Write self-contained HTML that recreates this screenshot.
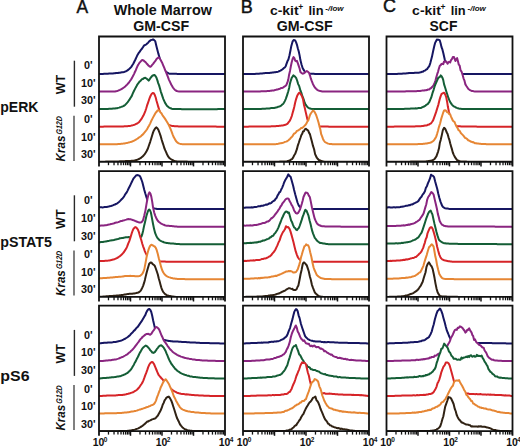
<!DOCTYPE html>
<html><head><meta charset="utf-8"><style>
html,body{margin:0;padding:0;background:#fff;}
svg{display:block;}
text{font-family:"Liberation Sans",sans-serif;fill:#111;}
.h{font-weight:bold;font-size:14.2px;}
.hk{font-weight:bold;font-size:13.4px;}
.hl{font-size:18px;stroke:#111;stroke-width:0.45px;}
.rl{font-weight:bold;font-size:14px;}
.t{font-weight:bold;font-size:10.8px;}
.wt{font-weight:bold;font-size:12.5px;}
.ax{font-weight:bold;font-size:10.4px;}
</style></head><body>
<svg width="520" height="447" viewBox="0 0 520 447">
<clipPath id="p00"><rect x="99.0" y="36.5" width="126.0" height="125.3"/></clipPath><g clip-path="url(#p00)">
<path d="M89.0,74.1 99.0,74.1 100.0,74.0 101.0,74.0 102.0,73.9 103.0,73.9 104.0,73.8 105.0,73.8 106.0,73.7 107.0,73.7 108.0,73.7 109.0,73.6 110.0,73.6 111.0,73.5 112.0,73.4 113.0,73.4 114.0,73.3 115.0,73.3 116.0,73.1 117.0,73.1 118.0,73.0 118.9,72.8 119.9,72.7 120.9,72.5 121.9,72.3 122.9,72.2 124.0,72.0 125.0,71.6 126.1,71.2 127.1,70.7 128.1,69.9 129.2,69.0 130.2,68.1 131.3,66.9 132.3,65.3 133.3,63.8 134.4,61.5 135.4,59.5 136.5,57.1 137.5,54.9 138.4,53.4 139.2,52.4 140.1,51.1 141.0,49.8 142.1,48.5 143.3,46.7 144.4,45.2 145.3,45.0 146.2,44.5 147.0,43.6 147.9,43.0 148.8,41.8 149.6,41.1 150.5,40.4 151.4,39.9 152.2,39.7 153.1,39.4 154.2,40.1 155.2,41.1 156.5,46.4 157.4,49.9 158.3,53.4 159.2,56.5 160.0,59.2 160.9,62.0 162.0,64.9 163.2,67.6 164.3,69.6 165.2,70.9 166.1,71.8 166.9,72.4 167.8,72.9 168.7,73.4 169.5,73.7 170.4,73.8 171.4,73.8 172.4,73.8 173.4,73.8 174.4,73.8 175.4,73.8 176.4,73.8 177.3,73.9 178.3,73.9 179.3,73.9 180.3,73.9 181.3,73.9 182.3,73.9 183.3,73.9 184.3,73.9 185.3,73.9 186.3,73.9 187.3,74.0 188.3,74.0 189.3,74.0 190.3,74.0 191.2,74.0 192.2,74.0 193.2,74.0 194.2,74.0 195.2,74.0 196.2,74.0 197.2,74.0 198.2,74.0 199.2,74.0 200.2,74.0 201.2,74.0 202.2,74.0 203.2,74.0 204.2,74.0 205.1,74.0 206.1,74.0 207.1,74.0 208.1,74.0 209.1,74.0 210.1,74.0 211.1,74.0 212.1,74.0 213.1,74.0 214.1,74.0 215.1,74.0 216.1,74.0 217.1,74.0 218.1,74.0 219.0,74.0 220.0,74.0 221.0,74.0 222.0,74.0 223.0,74.0 224.0,74.0 225.0,74.1 235.0,74.1 235.0,171.8 89.0,171.8Z" fill="#fff" stroke="#161662" stroke-width="2.00" stroke-linejoin="round"/>
<path d="M89.0,91.6 99.0,91.6 100.0,91.6 101.0,91.6 102.0,91.6 103.0,91.6 104.0,91.6 105.0,91.6 106.0,91.6 107.0,91.6 108.0,91.6 109.0,91.6 110.0,91.6 111.0,91.6 112.0,91.6 113.0,91.6 114.0,91.5 115.0,91.4 116.0,91.2 117.0,91.0 118.0,90.7 118.9,90.3 119.9,89.9 120.9,89.4 121.9,88.8 122.9,88.2 123.9,87.5 124.9,86.8 125.8,85.8 126.8,84.9 127.8,83.8 128.8,82.8 129.8,81.3 130.9,79.7 131.9,78.1 133.0,76.0 134.0,74.1 134.9,72.0 135.8,70.2 136.6,68.2 137.5,66.1 138.4,64.6 139.2,63.1 140.1,62.1 141.0,61.1 141.8,60.3 142.7,60.1 143.6,60.5 144.4,61.3 145.3,61.9 146.4,63.2 147.6,64.5 148.7,65.8 149.6,66.5 150.5,66.8 151.4,66.0 152.2,64.8 153.1,63.8 154.2,62.3 155.4,60.9 156.5,59.1 157.4,58.2 158.3,57.5 159.2,57.9 160.0,58.9 160.9,60.4 162.0,62.4 163.2,65.3 164.3,67.9 165.2,70.3 166.1,72.4 166.9,74.4 167.8,76.6 168.9,79.6 170.1,82.2 171.2,84.5 172.1,86.1 172.9,87.5 173.8,88.7 174.7,89.7 175.8,90.5 176.8,91.0 177.9,91.3 179.0,91.4 180.0,91.4 181.0,91.5 182.0,91.5 183.0,91.5 184.0,91.6 185.0,91.6 186.0,91.6 187.0,91.6 188.0,91.6 189.0,91.6 190.0,91.6 191.0,91.6 192.0,91.6 193.0,91.6 194.0,91.6 195.0,91.6 196.0,91.6 197.0,91.6 198.0,91.6 199.0,91.6 200.0,91.6 201.0,91.6 202.0,91.6 203.0,91.6 204.0,91.6 205.0,91.6 206.0,91.6 207.0,91.6 208.0,91.6 209.0,91.6 210.0,91.6 211.0,91.6 212.0,91.6 213.0,91.6 214.0,91.6 215.0,91.6 216.0,91.6 217.0,91.6 218.0,91.6 219.0,91.6 220.0,91.6 221.0,91.6 222.0,91.6 223.0,91.6 224.0,91.6 225.0,91.6 235.0,91.6 235.0,171.8 89.0,171.8Z" fill="#fff" stroke="#8a2580" stroke-width="2.00" stroke-linejoin="round"/>
<path d="M89.0,109.2 99.0,109.2 100.0,109.1 101.0,109.1 102.0,109.0 103.0,109.0 104.0,109.0 105.0,109.0 106.0,108.9 107.0,108.9 108.0,108.9 109.0,108.8 110.0,108.8 111.0,108.7 112.0,108.7 113.0,108.6 114.0,108.5 115.0,108.5 116.0,108.3 117.1,108.2 118.1,107.9 119.2,107.6 120.2,107.2 121.2,106.9 122.3,106.5 123.3,106.1 124.4,105.5 125.4,104.7 126.4,103.6 127.5,102.4 128.5,101.0 129.6,99.4 130.6,97.8 131.7,96.1 132.8,93.4 133.8,91.3 134.9,89.1 135.8,87.4 136.7,85.8 137.5,84.3 138.4,83.2 139.5,81.6 140.7,80.7 141.8,79.3 142.7,79.1 143.6,78.4 144.4,78.0 145.3,77.8 146.4,78.5 147.6,79.5 148.7,80.6 149.6,79.4 150.4,78.1 151.3,77.0 152.4,75.7 153.4,75.3 154.5,74.9 155.5,76.1 156.5,77.8 157.4,80.4 158.2,83.1 159.1,85.4 160.0,88.5 160.8,91.6 161.7,94.2 162.6,96.8 163.4,99.1 164.3,101.1 165.2,103.1 166.1,104.4 166.9,105.7 167.8,106.5 168.7,107.3 169.7,107.8 170.7,108.3 171.8,108.7 172.8,108.9 173.8,109.0 174.8,109.0 175.8,109.0 176.8,109.0 177.8,109.1 178.8,109.1 179.8,109.1 180.8,109.1 181.8,109.2 182.8,109.2 183.8,109.2 184.8,109.2 185.8,109.2 186.9,109.2 187.9,109.2 188.9,109.2 189.9,109.2 190.9,109.2 191.9,109.2 192.9,109.2 193.9,109.2 194.9,109.2 195.9,109.2 196.9,109.2 197.9,109.2 198.9,109.2 199.9,109.2 200.9,109.2 201.9,109.2 202.9,109.2 203.9,109.2 204.9,109.2 205.9,109.2 206.9,109.2 207.9,109.2 208.9,109.2 209.9,109.2 210.9,109.2 211.9,109.2 213.0,109.2 214.0,109.2 215.0,109.2 216.0,109.2 217.0,109.2 218.0,109.1 219.0,109.1 220.0,109.1 221.0,109.1 222.0,109.1 223.0,109.1 224.0,109.1 225.0,109.2 235.0,109.2 235.0,171.8 89.0,171.8Z" fill="#fff" stroke="#145e36" stroke-width="2.00" stroke-linejoin="round"/>
<path d="M89.0,126.7 99.0,126.7 100.0,126.7 101.0,126.7 102.0,126.7 103.1,126.7 104.1,126.6 105.1,126.6 106.1,126.6 107.1,126.6 108.1,126.6 109.2,126.6 110.2,126.6 111.2,126.6 112.2,126.6 113.2,126.6 114.2,126.6 115.2,126.5 116.3,126.5 117.3,126.5 118.3,126.5 119.3,126.5 120.3,126.5 121.3,126.4 122.4,126.4 123.4,126.4 124.4,126.3 125.4,126.3 126.4,126.3 127.4,126.2 128.4,126.1 129.3,126.0 130.3,125.9 131.3,125.6 132.3,125.4 133.3,125.1 134.3,124.8 135.3,124.4 136.2,123.9 137.2,123.5 138.2,122.8 139.2,121.9 140.2,120.6 141.3,119.2 142.3,117.4 143.4,115.6 144.4,113.3 145.3,111.1 146.2,108.5 147.0,105.7 147.9,103.1 148.8,100.5 149.6,98.1 150.5,96.0 151.6,93.9 152.7,93.0 153.8,93.3 154.8,95.1 155.7,97.5 156.5,100.8 157.4,103.7 158.3,106.9 159.2,109.8 160.0,112.8 160.9,115.1 162.0,117.4 163.1,119.8 164.1,121.4 165.2,122.8 166.2,123.8 167.3,124.3 168.3,124.8 169.4,125.1 170.4,125.4 171.4,125.7 172.5,126.0 173.5,126.1 174.6,126.2 175.6,126.3 176.6,126.3 177.6,126.3 178.6,126.4 179.6,126.4 180.6,126.4 181.6,126.4 182.7,126.4 183.7,126.5 184.7,126.5 185.7,126.5 186.7,126.5 187.7,126.5 188.7,126.5 189.7,126.5 190.7,126.5 191.7,126.5 192.7,126.6 193.7,126.6 194.8,126.6 195.8,126.6 196.8,126.6 197.8,126.6 198.8,126.6 199.8,126.6 200.8,126.6 201.8,126.6 202.8,126.6 203.8,126.6 204.8,126.6 205.8,126.6 206.9,126.6 207.9,126.6 208.9,126.6 209.9,126.6 210.9,126.6 211.9,126.6 212.9,126.6 213.9,126.6 214.9,126.6 215.9,126.6 216.9,126.7 217.9,126.7 219.0,126.7 220.0,126.7 221.0,126.7 222.0,126.7 223.0,126.7 224.0,126.7 225.0,126.7 235.0,126.7 235.0,171.8 89.0,171.8Z" fill="#fff" stroke="#d62428" stroke-width="2.00" stroke-linejoin="round"/>
<path d="M89.0,144.2 99.0,144.2 100.0,144.2 101.0,144.2 102.0,144.2 103.0,144.2 104.0,144.2 105.0,144.2 106.0,144.2 107.0,144.2 108.0,144.2 109.0,144.2 110.0,144.2 111.0,144.2 112.0,144.2 113.0,144.2 114.0,144.2 115.0,144.2 116.0,144.2 117.1,144.2 118.1,144.1 119.2,144.0 120.2,143.9 121.2,143.8 122.3,143.7 123.3,143.6 124.4,143.4 125.4,143.2 126.4,143.1 127.3,142.9 128.3,142.6 129.2,142.4 130.2,142.1 131.1,141.9 132.1,141.5 133.0,141.1 134.0,140.7 135.0,140.2 135.9,139.6 136.9,139.0 137.9,138.4 138.8,137.6 139.8,137.0 140.8,136.4 141.7,135.4 142.7,134.6 143.7,133.5 144.8,132.1 145.8,130.9 146.9,129.5 147.9,127.6 149.0,125.7 150.1,123.6 151.1,121.3 152.2,119.1 153.1,117.4 153.9,115.9 154.8,114.3 155.7,112.7 156.6,111.8 157.4,110.7 158.3,110.1 159.3,110.6 160.3,112.3 161.4,113.3 162.4,115.1 163.5,116.6 164.6,118.1 165.8,119.9 166.9,121.7 167.8,123.2 168.7,124.9 169.5,126.7 170.4,128.7 171.5,131.4 172.7,134.6 173.8,137.3 174.7,138.8 175.6,140.4 176.4,141.6 177.3,142.4 178.3,143.1 179.4,143.6 180.4,143.9 181.5,144.1 182.5,144.2 183.5,144.2 184.5,144.2 185.5,144.2 186.5,144.2 187.6,144.2 188.6,144.2 189.6,144.2 190.6,144.2 191.6,144.2 192.6,144.2 193.6,144.2 194.6,144.2 195.7,144.2 196.7,144.2 197.7,144.2 198.7,144.2 199.7,144.2 200.7,144.2 201.7,144.2 202.7,144.2 203.8,144.2 204.8,144.2 205.8,144.2 206.8,144.2 207.8,144.2 208.8,144.2 209.8,144.2 210.8,144.2 211.8,144.2 212.9,144.2 213.9,144.2 214.9,144.2 215.9,144.2 216.9,144.2 217.9,144.2 218.9,144.2 219.9,144.2 221.0,144.2 222.0,144.2 223.0,144.2 224.0,144.2 225.0,144.2 235.0,144.2 235.0,171.8 89.0,171.8Z" fill="#fff" stroke="#e68634" stroke-width="2.00" stroke-linejoin="round"/>
<path d="M89.0,161.8 99.0,161.8 100.0,161.8 101.0,161.7 102.0,161.7 103.0,161.7 103.9,161.7 104.9,161.7 105.9,161.6 106.9,161.6 107.9,161.6 108.9,161.6 109.9,161.6 110.8,161.5 111.8,161.5 112.8,161.5 113.8,161.5 114.8,161.5 115.8,161.4 116.8,161.4 117.8,161.4 118.8,161.4 119.7,161.3 120.7,161.3 121.7,161.3 122.7,161.2 123.7,161.2 124.7,161.2 125.7,161.1 126.7,161.1 127.6,161.0 128.6,161.0 129.6,161.0 130.6,160.9 131.6,160.8 132.6,160.8 133.6,160.7 134.5,160.6 135.5,160.3 136.5,160.1 137.5,159.6 138.5,159.3 139.5,158.7 140.6,158.1 141.6,157.3 142.6,156.4 143.6,155.5 144.7,154.1 145.8,152.5 146.8,150.7 147.9,148.5 149.0,145.2 150.2,141.8 151.3,138.2 152.2,135.3 153.0,132.6 153.9,130.4 155.1,128.4 156.2,127.4 157.4,128.3 158.6,130.3 159.6,133.0 160.7,136.2 161.7,139.8 162.6,142.6 163.4,145.0 164.3,148.0 165.2,150.2 166.1,152.2 166.9,154.0 167.8,155.9 168.7,157.2 169.7,158.2 170.7,159.0 171.8,159.7 172.8,160.1 173.8,160.6 174.8,161.0 175.9,161.2 176.9,161.4 178.0,161.5 179.0,161.5 180.0,161.5 181.0,161.5 182.0,161.6 183.0,161.6 184.0,161.6 185.0,161.6 186.0,161.6 187.0,161.6 188.0,161.7 189.0,161.7 190.0,161.7 191.0,161.7 192.0,161.7 193.0,161.7 194.0,161.7 195.0,161.7 196.0,161.7 197.0,161.7 198.0,161.7 199.0,161.7 200.0,161.7 201.0,161.7 202.0,161.7 203.0,161.7 204.0,161.8 205.0,161.8 206.0,161.8 207.0,161.8 208.0,161.8 209.0,161.8 210.0,161.8 211.0,161.8 212.0,161.8 213.0,161.8 214.0,161.8 215.0,161.8 216.0,161.8 217.0,161.8 218.0,161.8 219.0,161.8 220.0,161.8 221.0,161.8 222.0,161.8 223.0,161.8 224.0,161.8 225.0,161.8 235.0,161.8 235.0,171.8 89.0,171.8Z" fill="#fff" stroke="#302214" stroke-width="2.00" stroke-linejoin="round"/>
</g>
<path d="M99.0,166.4 V36.5 H225.0 V166.4" fill="none" stroke="#111" stroke-width="1.8" stroke-linecap="butt" stroke-linejoin="miter"/>
<line x1="99.0" y1="161.8" x2="225.0" y2="161.8" stroke="#111" stroke-width="1.8"/>
<line x1="108.48" y1="161.8" x2="108.48" y2="165.2" stroke="#111" stroke-width="1.3"/>
<line x1="114.03" y1="161.8" x2="114.03" y2="165.2" stroke="#111" stroke-width="1.3"/>
<line x1="117.96" y1="161.8" x2="117.96" y2="165.2" stroke="#111" stroke-width="1.3"/>
<line x1="121.02" y1="161.8" x2="121.02" y2="165.2" stroke="#111" stroke-width="1.3"/>
<line x1="123.51" y1="161.8" x2="123.51" y2="165.2" stroke="#111" stroke-width="1.3"/>
<line x1="125.62" y1="161.8" x2="125.62" y2="165.2" stroke="#111" stroke-width="1.3"/>
<line x1="127.45" y1="161.8" x2="127.45" y2="165.2" stroke="#111" stroke-width="1.3"/>
<line x1="129.06" y1="161.8" x2="129.06" y2="165.2" stroke="#111" stroke-width="1.3"/>
<line x1="139.98" y1="161.8" x2="139.98" y2="165.2" stroke="#111" stroke-width="1.3"/>
<line x1="145.53" y1="161.8" x2="145.53" y2="165.2" stroke="#111" stroke-width="1.3"/>
<line x1="149.46" y1="161.8" x2="149.46" y2="165.2" stroke="#111" stroke-width="1.3"/>
<line x1="152.52" y1="161.8" x2="152.52" y2="165.2" stroke="#111" stroke-width="1.3"/>
<line x1="155.01" y1="161.8" x2="155.01" y2="165.2" stroke="#111" stroke-width="1.3"/>
<line x1="157.12" y1="161.8" x2="157.12" y2="165.2" stroke="#111" stroke-width="1.3"/>
<line x1="158.95" y1="161.8" x2="158.95" y2="165.2" stroke="#111" stroke-width="1.3"/>
<line x1="160.56" y1="161.8" x2="160.56" y2="165.2" stroke="#111" stroke-width="1.3"/>
<line x1="171.48" y1="161.8" x2="171.48" y2="165.2" stroke="#111" stroke-width="1.3"/>
<line x1="177.03" y1="161.8" x2="177.03" y2="165.2" stroke="#111" stroke-width="1.3"/>
<line x1="180.96" y1="161.8" x2="180.96" y2="165.2" stroke="#111" stroke-width="1.3"/>
<line x1="184.02" y1="161.8" x2="184.02" y2="165.2" stroke="#111" stroke-width="1.3"/>
<line x1="186.51" y1="161.8" x2="186.51" y2="165.2" stroke="#111" stroke-width="1.3"/>
<line x1="188.62" y1="161.8" x2="188.62" y2="165.2" stroke="#111" stroke-width="1.3"/>
<line x1="190.45" y1="161.8" x2="190.45" y2="165.2" stroke="#111" stroke-width="1.3"/>
<line x1="192.06" y1="161.8" x2="192.06" y2="165.2" stroke="#111" stroke-width="1.3"/>
<line x1="202.98" y1="161.8" x2="202.98" y2="165.2" stroke="#111" stroke-width="1.3"/>
<line x1="208.53" y1="161.8" x2="208.53" y2="165.2" stroke="#111" stroke-width="1.3"/>
<line x1="212.46" y1="161.8" x2="212.46" y2="165.2" stroke="#111" stroke-width="1.3"/>
<line x1="215.52" y1="161.8" x2="215.52" y2="165.2" stroke="#111" stroke-width="1.3"/>
<line x1="218.01" y1="161.8" x2="218.01" y2="165.2" stroke="#111" stroke-width="1.3"/>
<line x1="220.12" y1="161.8" x2="220.12" y2="165.2" stroke="#111" stroke-width="1.3"/>
<line x1="221.95" y1="161.8" x2="221.95" y2="165.2" stroke="#111" stroke-width="1.3"/>
<line x1="223.56" y1="161.8" x2="223.56" y2="165.2" stroke="#111" stroke-width="1.3"/>
<line x1="130.50" y1="161.8" x2="130.50" y2="166.4" stroke="#111" stroke-width="1.5"/>
<line x1="162.00" y1="161.8" x2="162.00" y2="166.4" stroke="#111" stroke-width="1.5"/>
<line x1="193.50" y1="161.8" x2="193.50" y2="166.4" stroke="#111" stroke-width="1.5"/>
<clipPath id="p01"><rect x="243.0" y="36.5" width="126.0" height="125.3"/></clipPath><g clip-path="url(#p01)">
<path d="M233.0,74.1 243.0,74.1 244.0,74.0 245.0,74.0 246.0,74.0 247.0,74.0 248.0,74.0 249.0,74.0 250.0,74.0 251.0,73.9 252.0,73.9 253.0,73.9 254.0,73.9 255.0,73.9 256.0,73.8 257.0,73.8 258.0,73.8 259.0,73.7 260.1,73.6 261.1,73.5 262.2,73.4 263.2,73.3 264.2,73.2 265.3,73.1 266.3,73.0 267.4,73.1 268.4,72.9 269.4,72.9 270.4,72.7 271.4,72.8 272.3,72.6 273.3,72.5 274.3,72.3 275.3,72.3 276.3,72.1 277.4,71.9 278.4,71.6 279.5,71.0 280.5,70.6 281.6,69.9 282.6,69.2 283.7,68.2 284.8,67.5 285.7,66.2 286.5,63.9 287.4,61.3 288.4,59.5 289.5,55.3 290.4,50.7 291.2,46.6 292.6,41.4 293.8,40.0 295.2,40.4 296.1,42.4 296.9,44.6 297.8,48.3 298.7,51.3 299.6,55.4 300.4,60.1 301.6,64.8 302.7,68.3 303.7,69.9 304.6,71.3 305.6,72.4 306.7,73.2 307.8,73.5 308.8,73.7 309.9,73.8 310.9,73.8 311.9,73.8 312.9,73.8 313.9,73.8 314.9,73.9 315.9,73.9 316.9,73.9 317.9,73.9 318.9,73.9 319.9,74.0 320.9,74.0 321.9,74.0 322.9,74.0 323.9,74.0 324.9,74.0 325.9,74.0 326.9,74.0 327.9,74.0 328.9,74.0 329.9,74.0 330.9,74.0 331.9,74.1 332.9,74.1 333.9,74.1 334.9,74.1 335.9,74.1 336.9,74.1 337.9,74.1 338.9,74.1 340.0,74.1 341.0,74.1 342.0,74.1 343.0,74.1 344.0,74.1 345.0,74.1 346.0,74.1 347.0,74.1 348.0,74.0 349.0,74.0 350.0,74.0 351.0,74.0 352.0,74.0 353.0,74.0 354.0,74.0 355.0,74.0 356.0,74.0 357.0,74.0 358.0,74.0 359.0,74.0 360.0,74.0 361.0,74.0 362.0,74.0 363.0,74.0 364.0,74.0 365.0,74.0 366.0,74.0 367.0,74.0 368.0,74.0 369.0,74.1 379.0,74.1 379.0,171.8 233.0,171.8Z" fill="#fff" stroke="#161662" stroke-width="2.00" stroke-linejoin="round"/>
<path d="M233.0,91.6 243.0,91.6 244.0,91.6 245.0,91.6 246.0,91.6 247.0,91.6 248.0,91.5 249.0,91.5 250.0,91.5 251.0,91.5 252.0,91.5 253.0,91.5 254.0,91.5 255.0,91.5 256.0,91.4 257.0,91.4 258.0,91.4 259.0,91.4 260.1,91.4 261.1,91.3 262.2,91.3 263.2,91.3 264.2,91.3 265.3,91.2 266.3,91.2 267.4,91.1 268.4,91.0 269.4,90.9 270.3,90.8 271.3,90.7 272.2,90.4 273.2,90.4 274.1,90.4 275.1,90.0 276.0,89.8 277.0,89.5 278.0,89.4 279.0,88.9 280.0,88.7 281.0,88.1 282.0,88.0 283.0,87.6 284.0,86.8 285.1,86.1 286.3,85.2 287.4,82.5 288.3,79.6 289.1,74.7 290.0,70.9 290.9,66.0 291.7,62.3 292.6,59.0 293.5,57.1 294.4,58.2 295.2,60.6 296.1,61.2 296.9,60.8 297.8,63.2 298.7,65.8 299.6,68.5 300.4,72.0 301.6,73.1 302.7,73.7 303.7,73.4 304.7,72.6 305.8,71.7 306.8,71.0 307.9,71.8 309.1,72.9 310.0,75.6 310.8,78.4 311.7,80.9 312.8,83.7 314.0,86.1 315.1,87.8 316.1,88.8 317.2,89.8 318.2,90.4 319.3,90.8 320.3,91.1 321.3,91.3 322.3,91.5 323.3,91.6 324.2,91.6 325.2,91.6 326.2,91.6 327.2,91.6 328.2,91.6 329.2,91.6 330.2,91.6 331.2,91.6 332.2,91.6 333.2,91.6 334.2,91.6 335.2,91.6 336.2,91.6 337.2,91.6 338.1,91.6 339.1,91.6 340.1,91.6 341.1,91.6 342.1,91.6 343.1,91.6 344.1,91.6 345.1,91.6 346.1,91.6 347.1,91.6 348.1,91.6 349.1,91.6 350.1,91.6 351.1,91.6 352.1,91.6 353.1,91.6 354.1,91.6 355.1,91.6 356.1,91.6 357.1,91.6 358.1,91.6 359.0,91.6 360.0,91.6 361.0,91.6 362.0,91.6 363.0,91.6 364.0,91.6 365.0,91.6 366.0,91.6 367.0,91.6 368.0,91.6 369.0,91.6 379.0,91.6 379.0,171.8 233.0,171.8Z" fill="#fff" stroke="#8a2580" stroke-width="2.00" stroke-linejoin="round"/>
<path d="M233.0,109.2 243.0,109.2 244.0,109.1 245.0,109.1 246.0,109.1 247.0,109.1 248.0,109.1 249.0,109.1 250.0,109.1 251.0,109.1 252.0,109.1 253.0,109.0 254.0,109.0 255.0,109.0 256.0,109.0 257.0,109.0 258.0,109.0 259.0,108.9 260.1,108.9 261.1,108.9 262.2,108.8 263.2,108.8 264.2,108.7 265.3,108.7 266.3,108.6 267.4,108.5 268.4,108.5 269.4,108.4 270.3,108.2 271.3,108.1 272.2,108.0 273.2,107.9 274.1,107.9 275.1,107.7 276.0,107.6 277.0,107.3 278.0,106.8 279.1,106.5 280.1,106.2 281.2,105.6 282.2,104.5 283.1,104.0 283.9,102.8 284.8,101.1 285.7,99.1 286.6,96.7 287.4,94.1 288.3,91.2 289.2,87.7 290.0,83.4 290.9,80.3 291.8,77.7 292.6,76.6 293.4,75.4 294.3,76.0 295.2,76.8 296.1,77.8 297.1,80.5 298.2,84.1 299.3,86.4 300.4,90.5 301.3,92.6 302.1,95.5 303.0,97.6 303.9,100.2 304.7,102.8 305.6,104.6 306.8,106.2 307.9,107.5 309.1,108.2 310.1,108.5 311.1,108.8 312.1,108.9 313.1,108.9 314.1,108.9 315.1,109.0 316.1,109.0 317.1,109.0 318.1,109.0 319.1,109.0 320.1,109.0 321.1,109.0 322.1,109.0 323.1,109.1 324.1,109.1 325.1,109.1 326.1,109.1 327.1,109.1 328.1,109.1 329.1,109.1 330.1,109.1 331.1,109.1 332.1,109.1 333.1,109.1 334.1,109.1 335.1,109.1 336.1,109.1 337.1,109.1 338.1,109.1 339.1,109.1 340.1,109.1 341.1,109.1 342.1,109.1 343.0,109.1 344.0,109.1 345.0,109.1 346.0,109.1 347.0,109.1 348.0,109.1 349.0,109.1 350.0,109.1 351.0,109.1 352.0,109.1 353.0,109.1 354.0,109.1 355.0,109.1 356.0,109.1 357.0,109.1 358.0,109.1 359.0,109.1 360.0,109.1 361.0,109.1 362.0,109.1 363.0,109.1 364.0,109.1 365.0,109.1 366.0,109.1 367.0,109.1 368.0,109.1 369.0,109.2 379.0,109.2 379.0,171.8 233.0,171.8Z" fill="#fff" stroke="#145e36" stroke-width="2.00" stroke-linejoin="round"/>
<path d="M233.0,126.7 243.0,126.7 244.0,126.7 245.0,126.7 246.0,126.7 247.1,126.7 248.1,126.7 249.1,126.6 250.1,126.6 251.1,126.6 252.1,126.6 253.2,126.6 254.2,126.6 255.2,126.6 256.2,126.6 257.2,126.6 258.2,126.6 259.3,126.6 260.3,126.6 261.3,126.5 262.3,126.5 263.3,126.5 264.3,126.5 265.4,126.5 266.4,126.4 267.4,126.4 268.4,126.4 269.4,126.4 270.4,126.4 271.4,126.3 272.4,126.3 273.4,126.3 274.4,126.2 275.5,126.2 276.5,126.1 277.5,126.0 278.5,125.9 279.5,125.8 280.5,125.7 281.5,125.6 282.5,125.6 283.5,125.3 284.4,125.0 285.4,124.8 286.4,124.3 287.4,123.9 288.3,122.7 289.1,121.7 290.0,120.4 290.9,118.4 291.8,116.0 292.6,113.0 293.5,109.9 294.4,106.3 295.2,102.5 296.1,99.1 297.1,96.1 298.2,94.1 299.1,92.7 299.9,93.0 301.0,94.5 302.1,96.6 303.0,99.2 303.9,104.4 304.8,108.0 305.6,111.6 306.4,115.0 307.3,119.0 308.2,121.6 309.1,123.8 310.1,125.1 311.0,125.7 312.0,126.1 313.0,126.3 314.0,126.5 315.0,126.5 316.0,126.5 317.0,126.5 318.0,126.5 319.0,126.6 320.0,126.6 321.0,126.6 322.0,126.6 323.0,126.6 324.0,126.6 325.0,126.6 326.0,126.6 327.0,126.6 328.0,126.6 329.0,126.7 330.0,126.7 331.0,126.7 332.0,126.7 333.0,126.7 334.0,126.7 335.0,126.7 336.0,126.7 337.0,126.7 338.0,126.7 339.0,126.7 340.0,126.7 341.0,126.7 342.0,126.7 343.0,126.7 344.0,126.7 345.0,126.7 346.0,126.7 347.0,126.7 348.0,126.7 349.0,126.7 350.0,126.7 351.0,126.7 352.0,126.7 353.0,126.7 354.0,126.7 355.0,126.7 356.0,126.7 357.0,126.7 358.0,126.7 359.0,126.7 360.0,126.7 361.0,126.7 362.0,126.7 363.0,126.7 364.0,126.7 365.0,126.7 366.0,126.7 367.0,126.7 368.0,126.7 369.0,126.7 379.0,126.7 379.0,171.8 233.0,171.8Z" fill="#fff" stroke="#d62428" stroke-width="2.00" stroke-linejoin="round"/>
<path d="M233.0,144.2 243.0,144.2 244.0,144.2 245.0,144.2 246.0,144.2 247.0,144.2 248.0,144.2 249.0,144.2 250.0,144.2 251.0,144.2 252.0,144.2 253.0,144.2 254.0,144.2 255.0,144.2 256.0,144.2 257.0,144.2 258.0,144.2 259.0,144.2 260.0,144.2 261.1,144.2 262.1,144.2 263.1,144.2 264.1,144.2 265.1,144.2 266.1,144.2 267.2,144.2 268.2,144.2 269.2,144.2 270.2,144.2 271.2,144.2 272.2,144.2 273.3,144.2 274.3,144.2 275.3,144.2 276.3,144.1 277.2,143.9 278.2,143.8 279.2,143.6 280.1,143.3 281.1,143.2 282.1,142.9 283.0,142.7 284.0,142.4 285.0,141.9 286.1,141.6 287.1,141.2 288.2,140.5 289.2,139.6 290.2,138.7 291.2,137.4 292.3,136.5 293.3,134.7 294.3,133.5 295.2,133.1 296.1,132.1 296.9,130.9 297.8,130.6 298.9,129.9 299.9,129.2 301.0,128.1 302.1,127.9 303.0,127.2 303.9,126.4 304.7,125.6 305.6,124.7 306.5,123.4 307.3,121.6 308.2,120.6 309.1,117.9 309.9,115.3 310.8,113.5 311.9,112.0 313.0,110.5 314.1,111.3 315.1,112.9 316.0,114.7 316.8,117.0 317.7,119.7 318.6,122.7 319.4,126.1 320.3,129.2 321.2,134.2 322.1,136.4 322.9,138.7 323.8,140.5 324.9,142.0 326.1,142.7 327.2,143.2 328.2,143.6 329.3,143.9 330.3,144.0 331.4,144.1 332.4,144.2 333.4,144.2 334.4,144.2 335.4,144.2 336.4,144.2 337.3,144.2 338.3,144.2 339.3,144.2 340.3,144.2 341.3,144.2 342.3,144.2 343.3,144.2 344.3,144.2 345.3,144.2 346.2,144.2 347.2,144.2 348.2,144.2 349.2,144.2 350.2,144.2 351.2,144.2 352.2,144.2 353.2,144.2 354.2,144.2 355.2,144.2 356.1,144.2 357.1,144.2 358.1,144.2 359.1,144.2 360.1,144.2 361.1,144.2 362.1,144.2 363.1,144.2 364.1,144.2 365.0,144.2 366.0,144.2 367.0,144.2 368.0,144.2 369.0,144.2 379.0,144.2 379.0,171.8 233.0,171.8Z" fill="#fff" stroke="#e68634" stroke-width="2.00" stroke-linejoin="round"/>
<path d="M233.0,161.8 243.0,161.8 244.0,161.8 245.0,161.8 246.0,161.8 247.0,161.8 248.0,161.8 249.0,161.8 250.0,161.8 251.0,161.8 252.0,161.8 253.0,161.8 254.0,161.8 255.0,161.8 256.0,161.8 257.0,161.8 258.0,161.8 259.0,161.8 260.0,161.8 261.0,161.8 262.0,161.8 263.0,161.8 264.0,161.8 265.0,161.8 266.0,161.8 267.0,161.8 268.0,161.8 269.0,161.8 270.0,161.8 271.0,161.8 272.0,161.8 273.0,161.8 274.0,161.8 275.0,161.8 276.0,161.7 277.0,161.7 278.0,161.7 279.0,161.7 280.0,161.6 281.0,161.6 282.0,161.6 283.0,161.5 284.0,161.5 285.0,161.5 286.0,161.4 287.0,161.3 287.9,161.0 288.9,160.7 289.9,160.4 290.9,159.6 292.0,159.1 293.1,157.6 294.1,155.5 295.2,153.8 296.1,151.4 296.9,149.2 297.8,145.6 298.7,143.0 299.6,140.2 300.4,138.0 301.3,135.3 302.2,133.8 303.0,131.5 303.9,131.2 305.0,129.1 306.1,128.8 307.1,129.9 308.2,130.6 309.1,132.9 309.9,134.1 310.8,137.4 311.9,141.6 313.0,145.9 314.1,149.2 315.1,154.1 316.0,156.0 316.8,157.7 317.7,158.8 318.8,160.0 319.9,160.2 320.9,160.9 322.0,161.1 323.0,161.4 324.1,161.6 325.1,161.7 326.2,161.8 327.2,161.8 328.2,161.8 329.2,161.8 330.2,161.8 331.2,161.8 332.2,161.8 333.2,161.8 334.2,161.8 335.2,161.8 336.2,161.8 337.2,161.8 338.1,161.8 339.1,161.8 340.1,161.8 341.1,161.8 342.1,161.8 343.1,161.8 344.1,161.8 345.1,161.8 346.1,161.8 347.1,161.8 348.1,161.8 349.1,161.8 350.1,161.8 351.1,161.8 352.1,161.8 353.1,161.8 354.1,161.8 355.1,161.8 356.1,161.8 357.1,161.8 358.1,161.8 359.0,161.8 360.0,161.8 361.0,161.8 362.0,161.8 363.0,161.8 364.0,161.8 365.0,161.8 366.0,161.8 367.0,161.8 368.0,161.8 369.0,161.8 379.0,161.8 379.0,171.8 233.0,171.8Z" fill="#fff" stroke="#302214" stroke-width="2.00" stroke-linejoin="round"/>
</g>
<path d="M243.0,166.4 V36.5 H369.0 V166.4" fill="none" stroke="#111" stroke-width="1.8" stroke-linecap="butt" stroke-linejoin="miter"/>
<line x1="243.0" y1="161.8" x2="369.0" y2="161.8" stroke="#111" stroke-width="1.8"/>
<line x1="252.48" y1="161.8" x2="252.48" y2="165.2" stroke="#111" stroke-width="1.3"/>
<line x1="258.03" y1="161.8" x2="258.03" y2="165.2" stroke="#111" stroke-width="1.3"/>
<line x1="261.96" y1="161.8" x2="261.96" y2="165.2" stroke="#111" stroke-width="1.3"/>
<line x1="265.02" y1="161.8" x2="265.02" y2="165.2" stroke="#111" stroke-width="1.3"/>
<line x1="267.51" y1="161.8" x2="267.51" y2="165.2" stroke="#111" stroke-width="1.3"/>
<line x1="269.62" y1="161.8" x2="269.62" y2="165.2" stroke="#111" stroke-width="1.3"/>
<line x1="271.45" y1="161.8" x2="271.45" y2="165.2" stroke="#111" stroke-width="1.3"/>
<line x1="273.06" y1="161.8" x2="273.06" y2="165.2" stroke="#111" stroke-width="1.3"/>
<line x1="283.98" y1="161.8" x2="283.98" y2="165.2" stroke="#111" stroke-width="1.3"/>
<line x1="289.53" y1="161.8" x2="289.53" y2="165.2" stroke="#111" stroke-width="1.3"/>
<line x1="293.46" y1="161.8" x2="293.46" y2="165.2" stroke="#111" stroke-width="1.3"/>
<line x1="296.52" y1="161.8" x2="296.52" y2="165.2" stroke="#111" stroke-width="1.3"/>
<line x1="299.01" y1="161.8" x2="299.01" y2="165.2" stroke="#111" stroke-width="1.3"/>
<line x1="301.12" y1="161.8" x2="301.12" y2="165.2" stroke="#111" stroke-width="1.3"/>
<line x1="302.95" y1="161.8" x2="302.95" y2="165.2" stroke="#111" stroke-width="1.3"/>
<line x1="304.56" y1="161.8" x2="304.56" y2="165.2" stroke="#111" stroke-width="1.3"/>
<line x1="315.48" y1="161.8" x2="315.48" y2="165.2" stroke="#111" stroke-width="1.3"/>
<line x1="321.03" y1="161.8" x2="321.03" y2="165.2" stroke="#111" stroke-width="1.3"/>
<line x1="324.96" y1="161.8" x2="324.96" y2="165.2" stroke="#111" stroke-width="1.3"/>
<line x1="328.02" y1="161.8" x2="328.02" y2="165.2" stroke="#111" stroke-width="1.3"/>
<line x1="330.51" y1="161.8" x2="330.51" y2="165.2" stroke="#111" stroke-width="1.3"/>
<line x1="332.62" y1="161.8" x2="332.62" y2="165.2" stroke="#111" stroke-width="1.3"/>
<line x1="334.45" y1="161.8" x2="334.45" y2="165.2" stroke="#111" stroke-width="1.3"/>
<line x1="336.06" y1="161.8" x2="336.06" y2="165.2" stroke="#111" stroke-width="1.3"/>
<line x1="346.98" y1="161.8" x2="346.98" y2="165.2" stroke="#111" stroke-width="1.3"/>
<line x1="352.53" y1="161.8" x2="352.53" y2="165.2" stroke="#111" stroke-width="1.3"/>
<line x1="356.46" y1="161.8" x2="356.46" y2="165.2" stroke="#111" stroke-width="1.3"/>
<line x1="359.52" y1="161.8" x2="359.52" y2="165.2" stroke="#111" stroke-width="1.3"/>
<line x1="362.01" y1="161.8" x2="362.01" y2="165.2" stroke="#111" stroke-width="1.3"/>
<line x1="364.12" y1="161.8" x2="364.12" y2="165.2" stroke="#111" stroke-width="1.3"/>
<line x1="365.95" y1="161.8" x2="365.95" y2="165.2" stroke="#111" stroke-width="1.3"/>
<line x1="367.56" y1="161.8" x2="367.56" y2="165.2" stroke="#111" stroke-width="1.3"/>
<line x1="274.50" y1="161.8" x2="274.50" y2="166.4" stroke="#111" stroke-width="1.5"/>
<line x1="306.00" y1="161.8" x2="306.00" y2="166.4" stroke="#111" stroke-width="1.5"/>
<line x1="337.50" y1="161.8" x2="337.50" y2="166.4" stroke="#111" stroke-width="1.5"/>
<clipPath id="p02"><rect x="386.5" y="36.5" width="126.0" height="125.3"/></clipPath><g clip-path="url(#p02)">
<path d="M376.5,74.1 386.5,74.1 387.5,74.0 388.4,74.0 389.4,74.0 390.4,74.0 391.3,74.0 392.3,74.0 393.2,73.9 394.2,73.9 395.2,73.9 396.1,73.9 397.1,73.9 398.1,73.8 399.0,73.8 400.0,73.8 401.0,73.7 402.0,73.7 403.0,73.6 403.9,73.5 404.9,73.5 405.9,73.4 406.9,73.3 407.9,73.3 408.9,73.1 409.9,73.1 410.8,73.1 411.8,73.0 412.8,72.9 413.8,72.9 414.8,72.7 415.8,72.8 416.8,72.8 417.8,72.7 418.8,72.7 419.8,72.4 420.8,72.3 421.8,71.8 422.9,71.7 423.9,70.9 425.0,70.6 426.0,69.7 427.1,69.1 428.3,67.3 429.4,65.8 430.3,63.1 431.1,60.0 432.0,56.6 433.1,51.2 434.3,46.0 435.1,42.9 436.0,41.2 436.9,39.6 437.7,39.7 438.8,39.7 439.8,40.4 440.6,43.2 441.5,47.1 442.4,49.4 443.3,53.0 444.7,59.3 445.6,61.9 446.5,65.4 447.5,67.8 448.5,69.4 449.5,71.3 450.5,72.3 451.5,72.5 452.5,73.1 453.5,73.3 454.5,73.6 455.5,73.7 456.5,73.8 457.5,73.8 458.5,73.8 459.5,73.8 460.5,73.8 461.5,73.9 462.5,73.9 463.5,73.9 464.5,73.9 465.5,73.9 466.5,73.9 467.5,73.9 468.5,74.0 469.5,74.0 470.5,74.0 471.5,74.0 472.5,74.0 473.5,74.0 474.5,74.0 475.5,74.0 476.5,74.0 477.5,74.0 478.5,74.0 479.5,74.0 480.5,74.0 481.5,74.0 482.5,74.0 483.5,74.0 484.5,74.0 485.5,74.0 486.5,74.0 487.5,74.0 488.5,74.0 489.5,74.0 490.5,74.0 491.5,74.0 492.5,74.0 493.5,74.0 494.5,74.0 495.5,74.0 496.5,74.0 497.5,74.0 498.5,74.0 499.5,74.0 500.5,74.0 501.5,74.0 502.5,74.0 503.5,74.0 504.5,74.0 505.5,74.0 506.5,74.0 507.5,74.0 508.5,74.0 509.5,74.0 510.5,74.0 511.5,74.0 512.5,74.1 522.5,74.1 522.5,171.8 376.5,171.8Z" fill="#fff" stroke="#161662" stroke-width="2.00" stroke-linejoin="round"/>
<path d="M376.5,91.6 386.5,91.6 387.5,91.6 388.4,91.6 389.4,91.6 390.4,91.5 391.3,91.5 392.3,91.5 393.2,91.5 394.2,91.5 395.2,91.5 396.1,91.5 397.1,91.4 398.1,91.4 399.0,91.4 400.0,91.4 401.0,91.4 402.0,91.4 403.1,91.4 404.1,91.4 405.1,91.4 406.1,91.3 407.1,91.3 408.1,91.3 409.2,91.3 410.2,91.3 411.2,91.3 412.2,91.3 413.2,91.3 414.2,91.2 415.3,91.2 416.3,91.2 417.3,91.1 418.3,91.0 419.2,91.0 420.2,90.9 421.2,90.7 422.1,90.6 423.1,90.4 424.1,90.4 425.0,90.2 426.0,90.3 427.0,90.1 428.1,89.4 429.1,89.6 430.2,88.5 431.2,88.0 432.3,86.8 433.5,85.4 434.6,82.9 435.5,80.5 436.3,77.2 437.2,74.2 438.1,71.6 438.9,68.6 439.8,65.8 440.7,65.1 441.5,63.9 442.4,63.7 443.3,64.1 444.1,61.4 445.0,61.8 445.9,61.3 446.7,62.2 447.6,63.7 448.5,62.1 449.3,61.8 450.2,62.4 451.1,60.0 451.9,59.1 452.9,56.9 454.0,57.1 455.4,61.0 456.2,59.1 457.1,58.1 457.9,61.1 458.8,64.7 459.7,65.7 460.6,70.4 461.6,71.7 462.7,75.3 463.6,78.6 464.5,80.7 465.4,84.4 466.4,86.0 467.4,87.5 468.4,89.0 469.5,89.8 470.6,90.4 471.6,90.9 472.7,91.1 473.7,91.3 474.7,91.4 475.7,91.5 476.6,91.6 477.6,91.6 478.6,91.6 479.6,91.6 480.6,91.6 481.6,91.6 482.6,91.6 483.6,91.6 484.6,91.6 485.6,91.6 486.6,91.6 487.6,91.6 488.6,91.6 489.6,91.6 490.6,91.6 491.6,91.6 492.6,91.6 493.6,91.6 494.6,91.6 495.6,91.6 496.5,91.6 497.5,91.6 498.5,91.6 499.5,91.6 500.5,91.6 501.5,91.6 502.5,91.6 503.5,91.6 504.5,91.6 505.5,91.6 506.5,91.6 507.5,91.6 508.5,91.6 509.5,91.6 510.5,91.6 511.5,91.6 512.5,91.6 522.5,91.6 522.5,171.8 376.5,171.8Z" fill="#fff" stroke="#8a2580" stroke-width="2.00" stroke-linejoin="round"/>
<path d="M376.5,109.2 386.5,109.2 387.5,109.1 388.4,109.1 389.4,109.1 390.4,109.1 391.3,109.1 392.3,109.1 393.2,109.1 394.2,109.1 395.2,109.0 396.1,109.0 397.1,109.0 398.1,109.0 399.0,109.0 400.0,109.0 401.0,108.9 402.0,108.9 403.0,108.9 403.9,108.9 404.9,108.8 405.9,108.8 406.9,108.8 407.9,108.8 408.9,108.7 409.9,108.7 410.8,108.6 411.8,108.6 412.8,108.5 413.8,108.5 414.8,108.4 415.7,108.3 416.7,108.4 417.7,108.2 418.6,108.1 419.6,108.1 420.6,108.0 421.5,107.7 422.5,107.1 423.5,106.7 424.6,106.3 425.6,105.6 426.7,104.6 427.7,104.1 428.6,102.9 429.4,101.8 430.3,99.7 431.2,97.7 432.4,93.4 433.7,89.6 434.6,86.4 435.4,84.3 436.3,82.3 437.4,79.8 438.4,77.5 439.6,77.2 440.7,75.4 441.6,76.2 442.4,77.7 443.2,79.9 444.1,84.4 445.2,87.8 446.4,91.7 447.4,94.8 448.3,97.7 449.3,100.2 450.2,102.2 451.1,103.4 451.9,104.6 452.8,105.5 453.8,106.4 454.8,106.8 455.8,107.5 456.8,107.9 457.8,108.2 458.8,108.5 459.8,108.7 460.8,108.8 461.8,108.9 462.8,108.9 463.8,108.9 464.8,108.9 465.8,109.0 466.8,109.0 467.8,109.0 468.8,109.0 469.8,109.0 470.8,109.0 471.8,109.0 472.8,109.0 473.7,109.0 474.7,109.0 475.7,109.0 476.7,109.1 477.7,109.1 478.7,109.1 479.7,109.1 480.7,109.1 481.7,109.1 482.7,109.1 483.7,109.1 484.7,109.1 485.7,109.1 486.7,109.1 487.7,109.1 488.7,109.1 489.6,109.1 490.6,109.1 491.6,109.1 492.6,109.1 493.6,109.1 494.6,109.1 495.6,109.1 496.6,109.1 497.6,109.1 498.6,109.1 499.6,109.1 500.6,109.1 501.6,109.1 502.6,109.1 503.6,109.1 504.6,109.1 505.5,109.1 506.5,109.1 507.5,109.1 508.5,109.1 509.5,109.1 510.5,109.1 511.5,109.1 512.5,109.2 522.5,109.2 522.5,171.8 376.5,171.8Z" fill="#fff" stroke="#145e36" stroke-width="2.00" stroke-linejoin="round"/>
<path d="M376.5,126.7 386.5,126.7 387.5,126.7 388.5,126.7 389.5,126.7 390.5,126.7 391.6,126.7 392.6,126.7 393.6,126.7 394.6,126.6 395.6,126.6 396.6,126.6 397.6,126.6 398.6,126.6 399.6,126.6 400.7,126.6 401.7,126.6 402.7,126.6 403.7,126.6 404.7,126.6 405.7,126.6 406.7,126.6 407.7,126.5 408.7,126.5 409.8,126.5 410.8,126.5 411.8,126.5 412.8,126.4 413.8,126.4 414.8,126.4 415.8,126.3 416.9,126.3 417.9,126.3 418.9,126.3 419.9,126.2 420.9,126.2 421.9,126.1 422.9,126.0 424.0,125.7 425.0,125.5 426.0,125.5 427.0,125.2 428.0,124.8 429.0,124.6 430.0,123.8 431.0,123.3 432.0,122.0 433.1,120.4 434.1,117.7 435.2,114.6 436.3,111.4 437.4,107.8 438.4,104.6 439.5,99.9 440.5,96.6 441.5,94.0 442.6,93.4 443.6,92.7 444.4,93.0 445.3,94.7 446.2,97.1 447.1,101.7 447.9,106.8 448.8,111.3 449.9,115.6 451.0,119.7 452.2,122.6 453.5,124.1 454.4,125.3 455.3,125.6 456.2,126.0 457.1,126.2 458.1,126.2 459.1,126.3 460.1,126.3 461.1,126.4 462.1,126.4 463.1,126.4 464.2,126.4 465.2,126.5 466.2,126.5 467.2,126.5 468.2,126.5 469.2,126.6 470.2,126.6 471.2,126.6 472.2,126.6 473.2,126.6 474.2,126.6 475.2,126.6 476.2,126.6 477.2,126.7 478.3,126.7 479.3,126.7 480.3,126.7 481.3,126.7 482.3,126.7 483.3,126.7 484.3,126.7 485.3,126.7 486.3,126.7 487.3,126.7 488.3,126.7 489.3,126.7 490.3,126.7 491.3,126.7 492.4,126.7 493.4,126.7 494.4,126.7 495.4,126.7 496.4,126.7 497.4,126.7 498.4,126.7 499.4,126.7 500.4,126.7 501.4,126.7 502.4,126.7 503.4,126.7 504.4,126.7 505.4,126.7 506.5,126.7 507.5,126.7 508.5,126.7 509.5,126.7 510.5,126.7 511.5,126.7 512.5,126.7 522.5,126.7 522.5,171.8 376.5,171.8Z" fill="#fff" stroke="#d62428" stroke-width="2.00" stroke-linejoin="round"/>
<path d="M376.5,144.2 386.5,144.2 387.5,144.2 388.4,144.2 389.4,144.2 390.4,144.2 391.3,144.2 392.3,144.2 393.2,144.2 394.2,144.2 395.2,144.2 396.1,144.2 397.1,144.2 398.1,144.2 399.0,144.2 400.0,144.2 401.0,144.2 402.0,144.2 403.1,144.2 404.1,144.2 405.1,144.2 406.1,144.2 407.1,144.2 408.1,144.2 409.2,144.2 410.2,144.2 411.2,144.2 412.2,144.2 413.2,144.2 414.2,144.2 415.3,144.2 416.3,144.2 417.3,144.2 418.3,144.1 419.4,144.1 420.4,144.0 421.5,144.0 422.5,143.9 423.5,143.8 424.6,143.7 425.6,143.6 426.7,143.5 427.7,143.2 428.7,143.1 429.8,142.8 430.8,142.5 431.9,141.9 432.9,141.2 434.0,140.2 435.2,138.4 436.3,136.4 437.2,133.6 438.0,130.7 438.9,127.1 440.1,123.5 441.2,118.9 442.2,115.7 443.3,112.3 444.1,110.5 445.0,110.3 446.1,110.7 447.1,112.3 448.2,112.4 449.3,114.2 450.2,114.4 451.0,116.6 451.9,118.5 452.8,120.5 453.6,121.4 454.5,121.9 455.4,124.1 456.5,126.5 457.6,128.1 458.6,130.2 459.7,130.9 460.8,133.0 461.9,134.1 462.9,135.1 464.0,136.4 465.0,137.9 466.1,138.2 467.1,139.0 468.2,140.2 469.2,140.6 470.2,141.3 471.2,141.7 472.2,142.2 473.1,142.1 474.1,142.8 475.1,143.2 476.1,143.2 477.1,143.5 478.2,143.6 479.2,143.7 480.3,143.8 481.3,143.9 482.3,144.0 483.4,144.0 484.4,144.1 485.5,144.1 486.5,144.2 487.5,144.2 488.5,144.2 489.5,144.2 490.5,144.2 491.5,144.2 492.5,144.2 493.5,144.2 494.5,144.2 495.5,144.2 496.5,144.2 497.5,144.2 498.5,144.2 499.5,144.2 500.5,144.2 501.5,144.2 502.5,144.2 503.5,144.2 504.5,144.2 505.5,144.2 506.5,144.2 507.5,144.2 508.5,144.2 509.5,144.2 510.5,144.2 511.5,144.2 512.5,144.2 522.5,144.2 522.5,171.8 376.5,171.8Z" fill="#fff" stroke="#e68634" stroke-width="2.00" stroke-linejoin="round"/>
<path d="M376.5,161.8 386.5,161.8 387.5,161.8 388.5,161.8 389.5,161.8 390.5,161.8 391.5,161.8 392.6,161.8 393.6,161.8 394.6,161.7 395.6,161.7 396.6,161.7 397.6,161.7 398.6,161.7 399.6,161.7 400.6,161.7 401.6,161.7 402.6,161.7 403.6,161.7 404.7,161.7 405.7,161.7 406.7,161.7 407.7,161.7 408.7,161.7 409.7,161.7 410.7,161.6 411.7,161.6 412.7,161.6 413.7,161.6 414.7,161.6 415.8,161.6 416.8,161.6 417.8,161.6 418.8,161.5 419.8,161.5 420.8,161.5 421.8,161.5 422.7,161.5 423.7,161.4 424.6,161.4 425.6,161.4 426.5,161.3 427.5,161.2 428.4,161.1 429.4,161.0 430.4,160.7 431.5,160.7 432.5,160.3 433.6,159.7 434.6,159.0 435.5,157.6 436.4,156.4 437.2,154.1 438.1,151.6 439.0,148.3 439.8,143.1 440.7,139.9 441.8,135.1 442.9,129.9 444.1,127.8 445.0,128.5 445.9,130.3 446.8,132.5 447.6,134.0 448.5,137.3 449.4,139.9 450.2,143.2 451.1,146.4 452.0,149.4 452.8,152.5 453.7,154.6 454.8,156.9 456.0,158.6 457.1,160.1 458.1,160.5 459.2,160.9 460.2,161.2 461.3,161.4 462.3,161.5 463.3,161.5 464.3,161.6 465.3,161.6 466.3,161.6 467.3,161.7 468.3,161.7 469.3,161.7 470.3,161.7 471.3,161.7 472.3,161.8 473.3,161.8 474.3,161.8 475.4,161.8 476.4,161.8 477.4,161.8 478.4,161.8 479.4,161.8 480.4,161.8 481.4,161.8 482.4,161.8 483.4,161.8 484.4,161.8 485.4,161.8 486.4,161.8 487.4,161.8 488.4,161.8 489.4,161.8 490.4,161.8 491.4,161.8 492.4,161.8 493.4,161.8 494.4,161.8 495.4,161.8 496.4,161.8 497.4,161.8 498.4,161.8 499.4,161.8 500.5,161.8 501.5,161.8 502.5,161.8 503.5,161.8 504.5,161.8 505.5,161.8 506.5,161.8 507.5,161.8 508.5,161.8 509.5,161.8 510.5,161.8 511.5,161.8 512.5,161.8 522.5,161.8 522.5,171.8 376.5,171.8Z" fill="#fff" stroke="#302214" stroke-width="2.00" stroke-linejoin="round"/>
</g>
<path d="M386.5,166.4 V36.5 H512.5 V166.4" fill="none" stroke="#111" stroke-width="1.8" stroke-linecap="butt" stroke-linejoin="miter"/>
<line x1="386.5" y1="161.8" x2="512.5" y2="161.8" stroke="#111" stroke-width="1.8"/>
<line x1="395.98" y1="161.8" x2="395.98" y2="165.2" stroke="#111" stroke-width="1.3"/>
<line x1="401.53" y1="161.8" x2="401.53" y2="165.2" stroke="#111" stroke-width="1.3"/>
<line x1="405.46" y1="161.8" x2="405.46" y2="165.2" stroke="#111" stroke-width="1.3"/>
<line x1="408.52" y1="161.8" x2="408.52" y2="165.2" stroke="#111" stroke-width="1.3"/>
<line x1="411.01" y1="161.8" x2="411.01" y2="165.2" stroke="#111" stroke-width="1.3"/>
<line x1="413.12" y1="161.8" x2="413.12" y2="165.2" stroke="#111" stroke-width="1.3"/>
<line x1="414.95" y1="161.8" x2="414.95" y2="165.2" stroke="#111" stroke-width="1.3"/>
<line x1="416.56" y1="161.8" x2="416.56" y2="165.2" stroke="#111" stroke-width="1.3"/>
<line x1="427.48" y1="161.8" x2="427.48" y2="165.2" stroke="#111" stroke-width="1.3"/>
<line x1="433.03" y1="161.8" x2="433.03" y2="165.2" stroke="#111" stroke-width="1.3"/>
<line x1="436.96" y1="161.8" x2="436.96" y2="165.2" stroke="#111" stroke-width="1.3"/>
<line x1="440.02" y1="161.8" x2="440.02" y2="165.2" stroke="#111" stroke-width="1.3"/>
<line x1="442.51" y1="161.8" x2="442.51" y2="165.2" stroke="#111" stroke-width="1.3"/>
<line x1="444.62" y1="161.8" x2="444.62" y2="165.2" stroke="#111" stroke-width="1.3"/>
<line x1="446.45" y1="161.8" x2="446.45" y2="165.2" stroke="#111" stroke-width="1.3"/>
<line x1="448.06" y1="161.8" x2="448.06" y2="165.2" stroke="#111" stroke-width="1.3"/>
<line x1="458.98" y1="161.8" x2="458.98" y2="165.2" stroke="#111" stroke-width="1.3"/>
<line x1="464.53" y1="161.8" x2="464.53" y2="165.2" stroke="#111" stroke-width="1.3"/>
<line x1="468.46" y1="161.8" x2="468.46" y2="165.2" stroke="#111" stroke-width="1.3"/>
<line x1="471.52" y1="161.8" x2="471.52" y2="165.2" stroke="#111" stroke-width="1.3"/>
<line x1="474.01" y1="161.8" x2="474.01" y2="165.2" stroke="#111" stroke-width="1.3"/>
<line x1="476.12" y1="161.8" x2="476.12" y2="165.2" stroke="#111" stroke-width="1.3"/>
<line x1="477.95" y1="161.8" x2="477.95" y2="165.2" stroke="#111" stroke-width="1.3"/>
<line x1="479.56" y1="161.8" x2="479.56" y2="165.2" stroke="#111" stroke-width="1.3"/>
<line x1="490.48" y1="161.8" x2="490.48" y2="165.2" stroke="#111" stroke-width="1.3"/>
<line x1="496.03" y1="161.8" x2="496.03" y2="165.2" stroke="#111" stroke-width="1.3"/>
<line x1="499.96" y1="161.8" x2="499.96" y2="165.2" stroke="#111" stroke-width="1.3"/>
<line x1="503.02" y1="161.8" x2="503.02" y2="165.2" stroke="#111" stroke-width="1.3"/>
<line x1="505.51" y1="161.8" x2="505.51" y2="165.2" stroke="#111" stroke-width="1.3"/>
<line x1="507.62" y1="161.8" x2="507.62" y2="165.2" stroke="#111" stroke-width="1.3"/>
<line x1="509.45" y1="161.8" x2="509.45" y2="165.2" stroke="#111" stroke-width="1.3"/>
<line x1="511.06" y1="161.8" x2="511.06" y2="165.2" stroke="#111" stroke-width="1.3"/>
<line x1="418.00" y1="161.8" x2="418.00" y2="166.4" stroke="#111" stroke-width="1.5"/>
<line x1="449.50" y1="161.8" x2="449.50" y2="166.4" stroke="#111" stroke-width="1.5"/>
<line x1="481.00" y1="161.8" x2="481.00" y2="166.4" stroke="#111" stroke-width="1.5"/>
<clipPath id="p10"><rect x="99.0" y="171.1" width="126.0" height="125.8"/></clipPath><g clip-path="url(#p10)">
<path d="M89.0,207.0 99.0,207.0 99.9,207.2 100.8,207.2 101.6,207.3 102.5,207.4 103.5,207.3 104.6,207.1 105.6,207.0 106.7,206.9 107.7,206.7 108.7,206.5 109.7,206.2 110.8,206.0 111.8,205.7 112.8,205.4 113.8,204.9 114.9,204.5 115.9,204.0 117.0,203.6 118.0,202.7 119.0,202.0 120.1,200.9 121.1,199.8 122.2,198.8 123.2,197.7 124.3,196.0 125.4,194.1 126.5,192.7 127.6,190.6 128.7,188.3 129.9,186.1 131.0,183.7 131.9,181.8 132.7,180.1 133.6,178.3 134.5,177.3 135.3,176.4 136.2,175.3 137.1,175.2 137.9,175.1 139.1,175.6 140.2,176.6 141.2,179.0 142.3,182.0 143.3,185.9 144.3,189.9 145.4,193.8 146.6,197.6 147.5,200.3 148.3,202.6 149.2,204.5 150.1,205.7 150.9,206.7 151.8,207.4 152.7,207.9 153.8,208.4 155.0,208.6 156.1,208.7 157.1,208.9 158.1,209.0 159.0,209.1 160.0,209.1 161.0,209.1 162.0,209.1 163.0,209.1 164.0,209.1 165.0,209.1 166.0,209.1 167.0,209.1 168.0,209.1 169.0,209.1 170.0,209.1 171.0,209.1 172.0,209.1 173.0,209.1 174.0,209.1 175.0,209.1 176.0,209.1 177.0,209.1 178.0,209.1 179.0,209.1 180.0,209.1 181.0,209.1 182.0,209.1 183.0,209.1 184.0,209.1 185.0,209.1 186.0,209.1 187.0,209.1 188.0,209.1 189.0,209.1 190.0,209.1 191.0,209.1 192.0,209.1 193.0,209.1 194.0,209.1 195.0,209.1 196.0,209.1 197.0,209.1 198.0,209.1 199.0,209.1 200.0,209.1 201.0,209.1 202.0,209.1 203.0,209.1 204.0,209.1 205.0,209.1 206.0,209.1 207.0,209.1 208.0,209.1 209.0,209.1 210.0,209.1 211.0,209.1 212.0,209.1 213.0,209.1 214.0,209.1 215.0,209.1 216.0,209.1 217.0,209.1 218.0,209.1 219.0,209.1 220.0,209.1 221.0,209.1 222.0,209.1 223.0,209.1 224.0,209.1 225.0,209.1 235.0,209.1 235.0,306.9 89.0,306.9Z" fill="#fff" stroke="#161662" stroke-width="2.00" stroke-linejoin="round"/>
<path d="M89.0,225.7 99.0,225.7 100.0,225.7 101.0,225.6 102.0,225.6 102.9,225.5 103.9,225.4 104.9,225.3 105.9,225.2 106.9,225.0 108.0,224.7 109.0,224.6 110.1,224.3 111.1,224.0 112.1,223.8 113.2,223.5 114.2,223.2 115.3,222.8 116.3,222.6 117.3,222.4 118.3,222.1 119.3,221.7 120.2,221.3 121.2,221.0 122.2,220.9 123.2,220.4 124.2,220.2 125.3,219.9 126.3,219.6 127.4,219.2 128.4,219.1 129.5,219.2 130.6,219.3 131.6,219.6 132.7,220.0 133.8,220.4 134.9,220.8 136.0,221.3 137.1,221.7 138.2,222.1 139.4,222.6 140.5,222.5 141.4,222.3 142.2,221.6 143.1,220.0 144.2,215.8 145.4,210.6 146.4,204.7 147.5,198.5 148.5,194.3 149.5,192.3 150.4,193.5 151.3,196.6 152.2,201.7 153.0,207.1 154.1,212.2 155.2,215.6 156.1,217.7 156.9,219.4 157.8,220.8 158.7,221.7 159.7,222.5 160.7,223.3 161.8,223.9 162.8,224.4 163.8,224.8 164.8,225.2 165.8,225.5 166.8,225.7 167.8,225.8 168.7,225.8 169.7,225.9 170.7,226.0 171.7,226.1 172.7,226.2 173.7,226.3 174.7,226.4 175.6,226.5 176.6,226.6 177.6,226.7 178.6,226.7 179.6,226.7 180.6,226.7 181.6,226.7 182.6,226.7 183.6,226.7 184.7,226.7 185.7,226.7 186.7,226.7 187.7,226.7 188.7,226.7 189.7,226.7 190.7,226.7 191.7,226.7 192.7,226.7 193.7,226.7 194.7,226.7 195.7,226.7 196.8,226.7 197.8,226.7 198.8,226.7 199.8,226.7 200.8,226.7 201.8,226.7 202.8,226.7 203.8,226.7 204.8,226.7 205.8,226.7 206.8,226.7 207.9,226.7 208.9,226.7 209.9,226.7 210.9,226.7 211.9,226.7 212.9,226.7 213.9,226.7 214.9,226.7 215.9,226.7 216.9,226.7 217.9,226.7 218.9,226.7 220.0,226.7 221.0,226.7 222.0,226.7 223.0,226.7 224.0,226.7 225.0,226.7 235.0,226.7 235.0,306.9 89.0,306.9Z" fill="#fff" stroke="#8a2580" stroke-width="2.00" stroke-linejoin="round"/>
<path d="M89.0,242.5 99.0,242.5 100.0,242.3 101.0,242.1 102.0,242.0 102.9,241.9 103.9,241.7 104.9,241.6 105.9,241.4 106.9,241.2 107.9,241.0 108.9,240.9 109.8,240.6 110.8,240.6 111.8,240.3 112.8,240.2 113.8,240.0 114.8,239.7 115.8,239.4 116.8,239.2 117.8,239.0 118.8,238.7 119.8,238.3 120.8,238.2 121.8,238.1 122.8,238.0 123.7,237.7 124.7,237.6 125.7,237.3 126.7,237.2 127.7,237.2 128.8,237.1 129.8,237.2 130.9,237.2 131.9,237.0 133.0,237.1 134.0,237.1 135.1,237.2 136.1,237.2 137.2,237.3 138.2,237.5 139.3,237.7 140.3,237.3 141.4,236.7 142.2,234.4 143.1,230.7 144.2,225.4 145.4,220.5 146.4,216.0 147.5,212.5 148.3,210.4 149.2,209.5 150.1,210.5 150.9,212.5 151.9,217.9 153.0,223.7 154.1,229.1 155.2,233.2 156.1,235.4 156.9,237.0 157.8,238.4 158.7,239.4 159.7,240.2 160.7,240.9 161.8,241.4 162.8,241.8 163.8,242.2 164.8,242.5 165.8,242.7 166.7,242.9 167.7,243.0 168.6,243.2 169.6,243.3 170.5,243.4 171.5,243.5 172.4,243.6 173.4,243.6 174.4,243.7 175.3,243.8 176.3,243.9 177.2,244.0 178.2,244.1 179.1,244.1 180.1,244.2 181.0,244.2 182.0,244.2 183.0,244.2 184.0,244.2 185.0,244.2 186.0,244.2 187.0,244.2 188.0,244.2 189.0,244.2 190.0,244.2 191.0,244.2 192.0,244.2 193.0,244.2 194.0,244.2 195.0,244.2 196.0,244.2 197.0,244.2 198.0,244.2 199.0,244.2 200.0,244.2 201.0,244.2 202.0,244.2 203.0,244.2 204.0,244.2 205.0,244.2 206.0,244.2 207.0,244.2 208.0,244.2 209.0,244.2 210.0,244.2 211.0,244.2 212.0,244.2 213.0,244.2 214.0,244.2 215.0,244.2 216.0,244.2 217.0,244.2 218.0,244.2 219.0,244.2 220.0,244.2 221.0,244.2 222.0,244.2 223.0,244.2 224.0,244.2 225.0,244.2 235.0,244.2 235.0,306.9 89.0,306.9Z" fill="#fff" stroke="#145e36" stroke-width="2.00" stroke-linejoin="round"/>
<path d="M89.0,261.0 99.0,261.0 100.0,261.0 101.1,260.9 102.1,260.9 103.2,260.9 104.2,260.9 105.2,260.8 106.3,260.8 107.3,260.7 108.4,260.6 109.4,260.4 110.4,260.2 111.3,260.0 112.3,259.8 113.2,259.6 114.2,259.3 115.1,258.9 116.1,258.5 117.0,258.0 118.0,257.5 119.0,256.8 120.0,256.1 121.0,255.2 122.0,254.3 123.0,253.2 124.0,252.0 125.0,250.4 126.1,248.8 127.2,246.4 128.2,243.6 129.3,241.1 130.4,237.6 131.6,233.7 132.7,230.5 133.6,228.6 134.4,227.9 135.3,227.1 136.2,227.4 137.0,228.4 137.9,229.6 138.8,231.8 139.6,234.7 140.5,237.7 141.4,240.4 142.2,243.5 143.1,246.3 144.0,248.6 144.8,251.1 145.7,253.1 146.6,254.9 147.4,256.3 148.3,257.4 149.2,258.5 150.1,259.3 151.0,259.8 152.0,260.2 153.0,260.6 154.0,260.8 155.0,261.0 156.0,261.2 157.0,261.3 158.0,261.4 159.0,261.5 160.0,261.6 161.0,261.6 162.0,261.6 163.0,261.6 164.0,261.6 165.0,261.6 166.0,261.7 167.0,261.7 168.0,261.7 169.0,261.7 170.0,261.7 171.0,261.7 172.0,261.7 173.0,261.7 174.0,261.7 175.0,261.7 176.0,261.7 177.0,261.7 178.0,261.7 179.0,261.7 180.0,261.7 181.0,261.7 182.0,261.7 183.0,261.7 184.0,261.8 185.0,261.8 186.0,261.8 187.0,261.8 188.0,261.8 189.0,261.8 190.0,261.8 191.0,261.8 192.0,261.8 193.0,261.8 194.0,261.8 195.0,261.8 196.0,261.8 197.0,261.8 198.0,261.8 199.0,261.8 200.0,261.8 201.0,261.8 202.0,261.8 203.0,261.8 204.0,261.8 205.0,261.8 206.0,261.8 207.0,261.8 208.0,261.8 209.0,261.8 210.0,261.8 211.0,261.8 212.0,261.8 213.0,261.8 214.0,261.8 215.0,261.8 216.0,261.8 217.0,261.8 218.0,261.8 219.0,261.8 220.0,261.8 221.0,261.8 222.0,261.8 223.0,261.8 224.0,261.8 225.0,261.8 235.0,261.8 235.0,306.9 89.0,306.9Z" fill="#fff" stroke="#d62428" stroke-width="2.00" stroke-linejoin="round"/>
<path d="M89.0,278.4 99.0,278.4 100.0,278.2 101.1,278.2 102.1,278.2 103.2,278.1 104.2,278.0 105.2,277.9 106.3,277.9 107.3,277.8 108.4,277.7 109.4,277.7 110.4,277.6 111.5,277.5 112.5,277.5 113.6,277.3 114.6,277.2 115.6,277.1 116.7,277.0 117.7,276.9 118.8,276.8 119.8,276.7 120.8,276.7 121.9,276.6 122.9,276.4 124.0,276.2 125.0,276.1 126.0,276.0 127.1,276.0 128.1,276.0 129.2,275.9 130.2,275.8 131.2,275.9 132.2,276.0 133.2,276.0 134.1,276.1 135.1,276.2 136.1,276.3 137.1,276.3 138.2,276.2 139.2,276.0 140.3,275.7 141.4,274.8 142.4,273.7 143.3,272.0 144.3,269.4 145.4,263.6 146.6,257.0 147.5,253.2 148.3,250.4 149.2,247.7 150.2,245.7 151.3,244.8 152.4,245.2 153.5,245.9 154.7,246.5 155.8,247.8 156.8,250.4 157.8,254.0 158.8,258.2 159.9,262.3 161.1,266.9 162.2,270.2 163.3,272.5 164.5,274.2 165.6,275.3 166.6,276.1 167.6,276.6 168.7,277.1 169.7,277.4 170.7,277.7 171.7,277.9 172.7,278.2 173.6,278.4 174.6,278.5 175.5,278.7 176.5,278.8 177.4,278.9 178.4,279.0 179.3,279.0 180.3,279.0 181.3,279.1 182.3,279.1 183.3,279.1 184.3,279.1 185.3,279.2 186.3,279.2 187.3,279.2 188.2,279.2 189.2,279.2 190.2,279.2 191.2,279.2 192.2,279.3 193.2,279.3 194.2,279.3 195.2,279.3 196.2,279.3 197.2,279.3 198.2,279.3 199.2,279.3 200.2,279.3 201.2,279.3 202.2,279.3 203.1,279.3 204.1,279.3 205.1,279.3 206.1,279.3 207.1,279.3 208.1,279.3 209.1,279.3 210.1,279.3 211.1,279.3 212.1,279.3 213.1,279.3 214.1,279.3 215.1,279.3 216.1,279.3 217.1,279.3 218.0,279.3 219.0,279.3 220.0,279.3 221.0,279.3 222.0,279.3 223.0,279.3 224.0,279.3 225.0,279.3 235.0,279.3 235.0,306.9 89.0,306.9Z" fill="#fff" stroke="#e68634" stroke-width="2.00" stroke-linejoin="round"/>
<path d="M89.0,296.9 99.0,296.9 100.0,296.8 101.1,296.7 102.1,296.7 103.2,296.6 104.2,296.5 105.2,296.4 106.3,296.3 107.3,296.3 108.4,296.2 109.4,296.1 110.4,296.1 111.5,295.9 112.5,295.9 113.6,295.8 114.6,295.8 115.6,295.7 116.7,295.6 117.7,295.5 118.8,295.5 119.8,295.3 120.8,295.2 121.7,295.0 122.7,294.9 123.6,294.8 124.6,294.5 125.5,294.4 126.5,294.2 127.4,294.1 128.4,293.9 129.4,293.8 130.4,293.7 131.4,293.7 132.3,293.7 133.3,293.5 134.3,293.4 135.3,293.2 136.3,293.0 137.4,292.7 138.4,292.5 139.5,291.9 140.5,290.9 141.4,289.5 142.2,287.9 143.1,285.8 144.0,283.2 144.9,279.9 145.7,276.4 146.6,272.8 147.5,269.6 148.3,266.8 149.2,263.8 150.6,262.4 151.7,262.8 152.7,264.1 153.7,264.8 154.7,265.7 155.8,268.5 157.0,272.0 157.9,274.8 158.7,278.3 159.6,281.3 160.5,284.7 161.3,287.6 162.2,290.0 163.3,292.1 164.5,293.4 165.6,294.4 166.7,295.1 167.8,295.5 168.9,295.9 170.0,296.1 171.0,296.3 172.0,296.5 173.0,296.6 173.9,296.7 174.9,296.8 175.9,296.9 176.9,296.9 177.9,296.9 178.9,296.9 179.9,296.9 180.9,296.9 181.9,296.9 182.9,296.9 183.9,296.9 184.9,296.9 185.9,296.9 186.9,296.9 187.9,296.9 188.9,296.9 189.9,296.9 190.9,296.9 191.9,296.9 192.9,296.9 193.9,296.9 194.9,296.9 195.9,296.9 196.9,296.9 197.9,296.9 198.9,296.9 199.9,296.9 200.9,296.9 202.0,296.9 203.0,296.9 204.0,296.9 205.0,296.9 206.0,296.9 207.0,296.9 208.0,296.9 209.0,296.9 210.0,296.9 211.0,296.9 212.0,296.9 213.0,296.9 214.0,296.9 215.0,296.9 216.0,296.9 217.0,296.9 218.0,296.9 219.0,296.9 220.0,296.9 221.0,296.9 222.0,296.9 223.0,296.9 224.0,296.9 225.0,296.9 235.0,296.9 235.0,306.9 89.0,306.9Z" fill="#fff" stroke="#302214" stroke-width="2.00" stroke-linejoin="round"/>
</g>
<path d="M99.0,301.5 V171.1 H225.0 V301.5" fill="none" stroke="#111" stroke-width="1.8" stroke-linecap="butt" stroke-linejoin="miter"/>
<line x1="99.0" y1="296.9" x2="225.0" y2="296.9" stroke="#111" stroke-width="1.8"/>
<line x1="108.48" y1="296.9" x2="108.48" y2="300.3" stroke="#111" stroke-width="1.3"/>
<line x1="114.03" y1="296.9" x2="114.03" y2="300.3" stroke="#111" stroke-width="1.3"/>
<line x1="117.96" y1="296.9" x2="117.96" y2="300.3" stroke="#111" stroke-width="1.3"/>
<line x1="121.02" y1="296.9" x2="121.02" y2="300.3" stroke="#111" stroke-width="1.3"/>
<line x1="123.51" y1="296.9" x2="123.51" y2="300.3" stroke="#111" stroke-width="1.3"/>
<line x1="125.62" y1="296.9" x2="125.62" y2="300.3" stroke="#111" stroke-width="1.3"/>
<line x1="127.45" y1="296.9" x2="127.45" y2="300.3" stroke="#111" stroke-width="1.3"/>
<line x1="129.06" y1="296.9" x2="129.06" y2="300.3" stroke="#111" stroke-width="1.3"/>
<line x1="139.98" y1="296.9" x2="139.98" y2="300.3" stroke="#111" stroke-width="1.3"/>
<line x1="145.53" y1="296.9" x2="145.53" y2="300.3" stroke="#111" stroke-width="1.3"/>
<line x1="149.46" y1="296.9" x2="149.46" y2="300.3" stroke="#111" stroke-width="1.3"/>
<line x1="152.52" y1="296.9" x2="152.52" y2="300.3" stroke="#111" stroke-width="1.3"/>
<line x1="155.01" y1="296.9" x2="155.01" y2="300.3" stroke="#111" stroke-width="1.3"/>
<line x1="157.12" y1="296.9" x2="157.12" y2="300.3" stroke="#111" stroke-width="1.3"/>
<line x1="158.95" y1="296.9" x2="158.95" y2="300.3" stroke="#111" stroke-width="1.3"/>
<line x1="160.56" y1="296.9" x2="160.56" y2="300.3" stroke="#111" stroke-width="1.3"/>
<line x1="171.48" y1="296.9" x2="171.48" y2="300.3" stroke="#111" stroke-width="1.3"/>
<line x1="177.03" y1="296.9" x2="177.03" y2="300.3" stroke="#111" stroke-width="1.3"/>
<line x1="180.96" y1="296.9" x2="180.96" y2="300.3" stroke="#111" stroke-width="1.3"/>
<line x1="184.02" y1="296.9" x2="184.02" y2="300.3" stroke="#111" stroke-width="1.3"/>
<line x1="186.51" y1="296.9" x2="186.51" y2="300.3" stroke="#111" stroke-width="1.3"/>
<line x1="188.62" y1="296.9" x2="188.62" y2="300.3" stroke="#111" stroke-width="1.3"/>
<line x1="190.45" y1="296.9" x2="190.45" y2="300.3" stroke="#111" stroke-width="1.3"/>
<line x1="192.06" y1="296.9" x2="192.06" y2="300.3" stroke="#111" stroke-width="1.3"/>
<line x1="202.98" y1="296.9" x2="202.98" y2="300.3" stroke="#111" stroke-width="1.3"/>
<line x1="208.53" y1="296.9" x2="208.53" y2="300.3" stroke="#111" stroke-width="1.3"/>
<line x1="212.46" y1="296.9" x2="212.46" y2="300.3" stroke="#111" stroke-width="1.3"/>
<line x1="215.52" y1="296.9" x2="215.52" y2="300.3" stroke="#111" stroke-width="1.3"/>
<line x1="218.01" y1="296.9" x2="218.01" y2="300.3" stroke="#111" stroke-width="1.3"/>
<line x1="220.12" y1="296.9" x2="220.12" y2="300.3" stroke="#111" stroke-width="1.3"/>
<line x1="221.95" y1="296.9" x2="221.95" y2="300.3" stroke="#111" stroke-width="1.3"/>
<line x1="223.56" y1="296.9" x2="223.56" y2="300.3" stroke="#111" stroke-width="1.3"/>
<line x1="130.50" y1="296.9" x2="130.50" y2="301.5" stroke="#111" stroke-width="1.5"/>
<line x1="162.00" y1="296.9" x2="162.00" y2="301.5" stroke="#111" stroke-width="1.5"/>
<line x1="193.50" y1="296.9" x2="193.50" y2="301.5" stroke="#111" stroke-width="1.5"/>
<clipPath id="p11"><rect x="243.0" y="171.1" width="126.0" height="125.8"/></clipPath><g clip-path="url(#p11)">
<path d="M233.0,207.6 243.0,207.6 244.0,207.7 244.9,207.7 245.9,207.5 246.9,207.6 247.8,207.6 248.8,207.5 249.8,207.5 250.7,207.4 251.7,207.2 252.7,207.4 253.6,207.2 254.6,207.1 255.5,207.0 256.5,206.9 257.4,206.6 258.4,206.2 259.3,206.2 260.3,206.2 261.3,205.8 262.3,205.7 263.3,205.7 264.2,205.2 265.2,204.9 266.2,204.5 267.2,204.7 268.2,204.2 269.3,203.2 270.3,203.5 271.4,202.8 272.4,201.8 273.5,201.0 274.6,200.4 275.6,198.9 276.7,197.7 277.6,195.4 278.4,194.3 279.3,192.3 280.2,192.0 281.2,189.5 282.2,187.6 283.2,185.1 284.1,182.5 285.0,180.6 285.9,179.1 287.1,177.0 288.3,174.4 289.4,175.9 290.6,176.8 291.4,179.5 292.3,182.8 293.2,186.0 294.1,190.0 295.2,194.3 296.3,198.2 297.5,202.5 298.7,205.5 299.9,206.9 301.0,207.9 302.0,208.4 303.0,208.6 304.0,208.8 305.0,208.8 306.0,208.9 307.0,209.0 308.0,209.0 309.0,209.1 310.0,209.1 311.0,209.1 312.0,209.1 313.0,209.1 314.0,209.1 315.0,209.1 316.0,209.1 317.0,209.1 318.0,209.1 319.0,209.1 320.0,209.1 321.0,209.1 322.0,209.1 323.0,209.1 324.0,209.1 325.0,209.1 326.0,209.1 327.0,209.1 328.0,209.1 329.0,209.1 330.0,209.1 331.0,209.1 332.0,209.1 333.0,209.1 334.0,209.1 335.0,209.1 336.0,209.1 337.0,209.1 338.0,209.1 339.0,209.1 340.0,209.1 341.0,209.1 342.0,209.1 343.0,209.1 344.0,209.1 345.0,209.1 346.0,209.1 347.0,209.1 348.0,209.1 349.0,209.1 350.0,209.1 351.0,209.1 352.0,209.1 353.0,209.1 354.0,209.1 355.0,209.1 356.0,209.1 357.0,209.1 358.0,209.1 359.0,209.1 360.0,209.1 361.0,209.1 362.0,209.1 363.0,209.1 364.0,209.1 365.0,209.1 366.0,209.1 367.0,209.1 368.0,209.1 369.0,209.1 379.0,209.1 379.0,306.9 233.0,306.9Z" fill="#fff" stroke="#161662" stroke-width="2.00" stroke-linejoin="round"/>
<path d="M233.0,225.9 243.0,225.9 244.0,225.4 245.1,225.7 246.1,225.6 247.2,225.4 248.2,225.6 249.2,225.4 250.3,225.3 251.3,225.4 252.4,225.5 253.4,225.2 254.4,225.0 255.3,224.9 256.3,224.9 257.2,224.7 258.2,224.5 259.1,224.2 260.1,224.1 261.0,223.8 262.0,223.4 263.0,223.0 264.0,223.0 265.0,222.7 266.0,222.3 267.0,221.6 268.0,221.6 269.0,220.9 270.0,220.0 271.1,218.5 272.1,218.0 273.2,217.0 274.2,215.9 275.3,214.2 276.4,213.0 277.4,211.7 278.5,209.8 279.5,208.6 280.5,206.5 281.5,205.3 282.5,203.2 283.5,202.3 284.4,201.0 285.4,199.5 286.6,198.7 287.7,198.4 288.7,198.9 289.7,201.3 290.6,202.7 291.4,204.6 292.3,205.8 293.2,207.9 294.0,210.2 294.9,211.7 295.9,213.1 297.0,213.6 298.1,212.9 299.2,211.0 300.1,209.3 300.9,206.8 301.8,203.8 302.7,200.5 303.5,197.0 304.4,195.0 305.6,192.5 306.7,192.7 307.8,193.3 308.8,195.6 309.8,197.0 310.8,201.6 311.9,207.2 313.1,212.2 314.0,215.9 314.8,218.9 315.7,220.9 316.6,222.7 317.4,223.9 318.3,224.6 319.2,225.2 320.2,225.5 321.2,226.0 322.2,226.2 323.1,226.3 324.1,226.3 325.1,226.4 326.1,226.4 327.1,226.4 328.1,226.5 329.1,226.5 330.1,226.5 331.1,226.5 332.1,226.5 333.1,226.6 334.1,226.6 335.1,226.6 336.1,226.6 337.1,226.6 338.1,226.6 339.1,226.6 340.1,226.6 341.1,226.7 342.1,226.7 343.1,226.7 344.1,226.7 345.1,226.7 346.1,226.7 347.1,226.7 348.0,226.7 349.0,226.7 350.0,226.7 351.0,226.7 352.0,226.7 353.0,226.7 354.0,226.7 355.0,226.7 356.0,226.7 357.0,226.7 358.0,226.7 359.0,226.7 360.0,226.7 361.0,226.7 362.0,226.7 363.0,226.7 364.0,226.7 365.0,226.7 366.0,226.7 367.0,226.7 368.0,226.7 369.0,226.7 379.0,226.7 379.0,306.9 233.0,306.9Z" fill="#fff" stroke="#8a2580" stroke-width="2.00" stroke-linejoin="round"/>
<path d="M233.0,243.2 243.0,243.2 244.0,243.2 245.1,243.2 246.1,243.3 247.2,243.0 248.2,243.1 249.2,242.9 250.3,242.8 251.3,243.0 252.4,242.7 253.4,242.8 254.4,242.5 255.3,242.6 256.3,242.3 257.2,242.4 258.2,242.0 259.1,241.7 260.1,241.8 261.0,241.3 262.0,241.0 263.0,240.5 264.0,240.6 265.0,240.1 266.0,239.7 267.0,239.2 268.0,238.9 269.0,238.5 270.0,237.5 271.1,237.0 272.1,236.0 273.2,235.7 274.2,233.9 275.3,233.0 276.4,231.3 277.4,229.7 278.5,227.3 279.6,224.4 280.8,221.5 281.9,218.5 282.9,216.5 283.9,214.2 284.9,212.5 286.0,211.5 287.1,211.7 288.0,212.9 288.9,212.5 290.0,216.6 291.1,220.5 292.1,222.3 293.1,225.1 294.1,227.4 295.1,228.0 296.0,229.6 297.0,230.1 297.9,228.9 298.9,227.9 299.8,225.5 300.8,222.6 301.7,219.9 302.7,216.6 303.6,214.4 304.4,212.2 305.3,209.8 306.4,210.5 307.4,212.8 308.5,215.7 309.6,220.4 310.5,223.7 311.3,227.3 312.2,230.9 313.1,233.6 313.9,235.6 314.8,237.9 315.7,238.9 316.6,240.2 317.4,241.0 318.3,241.8 319.3,242.5 320.3,243.0 321.3,243.1 322.3,243.2 323.3,243.5 324.3,243.6 325.3,243.8 326.4,244.0 327.4,244.1 328.5,244.2 329.5,244.2 330.5,244.2 331.5,244.2 332.5,244.2 333.4,244.2 334.4,244.2 335.4,244.2 336.4,244.2 337.4,244.2 338.4,244.2 339.4,244.2 340.4,244.2 341.4,244.2 342.3,244.2 343.3,244.2 344.3,244.2 345.3,244.2 346.3,244.2 347.3,244.2 348.3,244.2 349.2,244.2 350.2,244.2 351.2,244.2 352.2,244.2 353.2,244.2 354.2,244.2 355.2,244.2 356.2,244.2 357.1,244.2 358.1,244.2 359.1,244.2 360.1,244.2 361.1,244.2 362.1,244.2 363.1,244.2 364.1,244.2 365.1,244.2 366.0,244.2 367.0,244.2 368.0,244.2 369.0,244.2 379.0,244.2 379.0,306.9 233.0,306.9Z" fill="#fff" stroke="#145e36" stroke-width="2.00" stroke-linejoin="round"/>
<path d="M233.0,261.0 243.0,261.0 244.0,261.0 245.1,260.8 246.1,261.1 247.2,260.8 248.2,260.8 249.2,260.7 250.3,260.6 251.3,260.6 252.4,260.6 253.4,260.3 254.4,260.4 255.3,260.2 256.3,260.0 257.2,259.9 258.2,260.0 259.1,260.0 260.1,259.7 261.0,259.4 262.0,259.0 263.0,259.1 264.0,258.5 265.0,258.5 266.0,258.2 267.0,257.8 268.0,257.3 269.0,256.6 270.0,256.3 271.1,255.3 272.1,253.9 273.2,252.6 274.2,251.5 275.3,249.7 276.4,247.4 277.4,245.4 278.5,242.5 279.6,240.4 280.8,236.6 281.9,234.1 282.9,232.1 283.9,230.8 284.9,229.3 286.0,226.2 287.1,227.2 288.2,227.1 289.4,228.7 290.4,231.1 291.5,234.9 292.5,238.5 293.5,242.3 294.6,246.9 295.8,251.7 296.9,254.8 298.0,257.5 299.0,258.8 300.0,259.9 301.0,260.3 302.0,260.8 303.0,261.1 304.0,261.2 305.0,261.3 306.0,261.4 307.0,261.5 308.0,261.6 309.0,261.6 310.0,261.7 311.0,261.7 312.0,261.8 313.0,261.8 314.0,261.8 315.0,261.8 316.0,261.8 317.0,261.8 318.0,261.8 319.0,261.8 320.0,261.8 321.0,261.8 322.0,261.8 323.0,261.8 324.0,261.8 325.0,261.8 326.0,261.8 327.0,261.8 328.0,261.8 329.0,261.8 330.0,261.8 331.0,261.8 332.0,261.8 333.0,261.8 334.0,261.8 335.0,261.8 336.0,261.8 337.0,261.8 338.0,261.8 339.0,261.8 340.0,261.8 341.0,261.8 342.0,261.8 343.0,261.8 344.0,261.8 345.0,261.8 346.0,261.8 347.0,261.8 348.0,261.8 349.0,261.8 350.0,261.8 351.0,261.8 352.0,261.8 353.0,261.8 354.0,261.8 355.0,261.8 356.0,261.8 357.0,261.8 358.0,261.8 359.0,261.8 360.0,261.8 361.0,261.8 362.0,261.8 363.0,261.8 364.0,261.8 365.0,261.8 366.0,261.8 367.0,261.8 368.0,261.8 369.0,261.8 379.0,261.8 379.0,306.9 233.0,306.9Z" fill="#fff" stroke="#d62428" stroke-width="2.00" stroke-linejoin="round"/>
<path d="M233.0,278.8 243.0,278.8 244.0,278.8 245.0,278.8 246.0,278.8 246.9,278.7 247.9,278.7 248.9,278.7 249.9,278.7 250.9,278.6 251.9,278.6 252.9,278.6 253.8,278.5 254.8,278.3 255.8,278.3 256.8,278.3 257.8,278.4 258.8,278.0 259.9,278.4 260.9,277.8 261.9,278.0 262.9,277.8 263.9,277.7 264.9,277.6 265.9,277.5 267.0,277.4 268.0,277.4 269.0,277.1 270.0,277.2 270.9,276.8 271.9,276.6 272.8,276.4 273.8,276.2 274.7,276.0 275.7,275.7 276.6,275.9 277.6,275.3 278.6,275.0 279.7,274.5 280.7,274.1 281.8,273.6 282.8,273.3 283.8,272.6 284.9,272.3 285.9,271.6 287.0,271.6 288.0,271.3 288.9,271.0 289.8,271.2 290.6,271.0 291.5,271.4 292.4,271.7 293.2,272.4 294.1,272.5 295.0,272.3 295.8,272.3 296.7,271.0 297.9,268.9 299.2,264.9 300.1,261.8 300.9,257.7 301.8,254.8 302.7,251.5 303.5,249.1 304.4,246.2 305.3,245.9 306.1,244.4 307.0,245.1 308.1,245.3 309.1,247.4 310.2,252.3 311.4,257.0 312.5,262.8 313.6,267.5 314.6,270.3 315.6,272.4 316.6,274.7 317.7,275.9 318.8,276.7 319.8,277.4 320.9,278.0 321.9,278.3 322.9,278.6 323.9,278.7 324.8,278.9 325.8,279.0 326.8,279.0 327.8,279.0 328.8,279.1 329.8,279.1 330.8,279.1 331.8,279.2 332.8,279.2 333.8,279.2 334.8,279.2 335.8,279.2 336.8,279.2 337.8,279.2 338.9,279.3 339.9,279.3 340.9,279.3 341.9,279.3 342.9,279.3 343.9,279.3 344.9,279.3 345.9,279.3 346.9,279.3 347.9,279.3 348.9,279.3 349.9,279.3 350.9,279.3 351.9,279.3 352.9,279.3 353.9,279.3 354.9,279.3 355.9,279.3 356.9,279.3 357.9,279.3 359.0,279.3 360.0,279.3 361.0,279.3 362.0,279.3 363.0,279.3 364.0,279.3 365.0,279.3 366.0,279.3 367.0,279.3 368.0,279.3 369.0,279.3 379.0,279.3 379.0,306.9 233.0,306.9Z" fill="#fff" stroke="#e68634" stroke-width="2.00" stroke-linejoin="round"/>
<path d="M233.0,296.9 243.0,296.9 244.0,296.9 245.0,296.9 246.1,296.8 247.1,296.8 248.1,296.8 249.1,296.8 250.1,296.8 251.1,296.8 252.2,296.7 253.2,296.7 254.2,296.7 255.2,296.7 256.2,296.7 257.2,296.6 258.3,296.6 259.3,296.5 260.3,296.5 261.3,296.4 262.2,296.4 263.2,296.3 264.2,296.2 265.1,296.1 266.1,296.0 267.1,295.9 268.0,295.8 269.0,295.6 270.0,295.4 270.9,295.2 271.9,295.2 272.8,295.1 273.8,294.9 274.7,294.8 275.7,294.6 276.6,294.0 277.6,293.8 278.6,293.5 279.6,293.2 280.6,292.5 281.5,292.2 282.5,291.6 283.5,291.2 284.5,290.8 285.4,290.4 286.2,289.6 287.1,289.1 288.0,288.7 288.9,288.2 289.7,288.2 290.6,288.6 291.5,288.9 292.3,288.8 293.2,289.7 294.1,289.9 294.9,290.0 295.8,289.9 296.7,289.0 297.5,287.0 298.4,285.4 299.5,280.0 300.6,274.0 301.6,269.9 302.7,264.2 303.6,262.4 304.4,262.5 305.6,264.0 306.7,265.2 307.8,268.4 308.8,271.5 309.8,276.3 310.8,279.7 311.9,284.8 313.1,288.1 314.0,290.3 314.8,292.4 315.7,293.5 316.6,294.3 317.4,295.1 318.3,295.7 319.2,296.1 320.2,296.4 321.2,296.7 322.3,296.8 323.3,296.9 324.3,296.9 325.3,296.9 326.3,296.9 327.3,296.9 328.3,296.9 329.3,296.9 330.3,296.9 331.3,296.9 332.2,296.9 333.2,296.9 334.2,296.9 335.2,296.9 336.2,296.9 337.2,296.9 338.2,296.9 339.2,296.9 340.2,296.9 341.2,296.9 342.2,296.9 343.2,296.9 344.2,296.9 345.2,296.9 346.2,296.9 347.1,296.9 348.1,296.9 349.1,296.9 350.1,296.9 351.1,296.9 352.1,296.9 353.1,296.9 354.1,296.9 355.1,296.9 356.1,296.9 357.1,296.9 358.1,296.9 359.1,296.9 360.1,296.9 361.1,296.9 362.0,296.9 363.0,296.9 364.0,296.9 365.0,296.9 366.0,296.9 367.0,296.9 368.0,296.9 369.0,296.9 379.0,296.9 379.0,306.9 233.0,306.9Z" fill="#fff" stroke="#302214" stroke-width="2.00" stroke-linejoin="round"/>
</g>
<path d="M243.0,301.5 V171.1 H369.0 V301.5" fill="none" stroke="#111" stroke-width="1.8" stroke-linecap="butt" stroke-linejoin="miter"/>
<line x1="243.0" y1="296.9" x2="369.0" y2="296.9" stroke="#111" stroke-width="1.8"/>
<line x1="252.48" y1="296.9" x2="252.48" y2="300.3" stroke="#111" stroke-width="1.3"/>
<line x1="258.03" y1="296.9" x2="258.03" y2="300.3" stroke="#111" stroke-width="1.3"/>
<line x1="261.96" y1="296.9" x2="261.96" y2="300.3" stroke="#111" stroke-width="1.3"/>
<line x1="265.02" y1="296.9" x2="265.02" y2="300.3" stroke="#111" stroke-width="1.3"/>
<line x1="267.51" y1="296.9" x2="267.51" y2="300.3" stroke="#111" stroke-width="1.3"/>
<line x1="269.62" y1="296.9" x2="269.62" y2="300.3" stroke="#111" stroke-width="1.3"/>
<line x1="271.45" y1="296.9" x2="271.45" y2="300.3" stroke="#111" stroke-width="1.3"/>
<line x1="273.06" y1="296.9" x2="273.06" y2="300.3" stroke="#111" stroke-width="1.3"/>
<line x1="283.98" y1="296.9" x2="283.98" y2="300.3" stroke="#111" stroke-width="1.3"/>
<line x1="289.53" y1="296.9" x2="289.53" y2="300.3" stroke="#111" stroke-width="1.3"/>
<line x1="293.46" y1="296.9" x2="293.46" y2="300.3" stroke="#111" stroke-width="1.3"/>
<line x1="296.52" y1="296.9" x2="296.52" y2="300.3" stroke="#111" stroke-width="1.3"/>
<line x1="299.01" y1="296.9" x2="299.01" y2="300.3" stroke="#111" stroke-width="1.3"/>
<line x1="301.12" y1="296.9" x2="301.12" y2="300.3" stroke="#111" stroke-width="1.3"/>
<line x1="302.95" y1="296.9" x2="302.95" y2="300.3" stroke="#111" stroke-width="1.3"/>
<line x1="304.56" y1="296.9" x2="304.56" y2="300.3" stroke="#111" stroke-width="1.3"/>
<line x1="315.48" y1="296.9" x2="315.48" y2="300.3" stroke="#111" stroke-width="1.3"/>
<line x1="321.03" y1="296.9" x2="321.03" y2="300.3" stroke="#111" stroke-width="1.3"/>
<line x1="324.96" y1="296.9" x2="324.96" y2="300.3" stroke="#111" stroke-width="1.3"/>
<line x1="328.02" y1="296.9" x2="328.02" y2="300.3" stroke="#111" stroke-width="1.3"/>
<line x1="330.51" y1="296.9" x2="330.51" y2="300.3" stroke="#111" stroke-width="1.3"/>
<line x1="332.62" y1="296.9" x2="332.62" y2="300.3" stroke="#111" stroke-width="1.3"/>
<line x1="334.45" y1="296.9" x2="334.45" y2="300.3" stroke="#111" stroke-width="1.3"/>
<line x1="336.06" y1="296.9" x2="336.06" y2="300.3" stroke="#111" stroke-width="1.3"/>
<line x1="346.98" y1="296.9" x2="346.98" y2="300.3" stroke="#111" stroke-width="1.3"/>
<line x1="352.53" y1="296.9" x2="352.53" y2="300.3" stroke="#111" stroke-width="1.3"/>
<line x1="356.46" y1="296.9" x2="356.46" y2="300.3" stroke="#111" stroke-width="1.3"/>
<line x1="359.52" y1="296.9" x2="359.52" y2="300.3" stroke="#111" stroke-width="1.3"/>
<line x1="362.01" y1="296.9" x2="362.01" y2="300.3" stroke="#111" stroke-width="1.3"/>
<line x1="364.12" y1="296.9" x2="364.12" y2="300.3" stroke="#111" stroke-width="1.3"/>
<line x1="365.95" y1="296.9" x2="365.95" y2="300.3" stroke="#111" stroke-width="1.3"/>
<line x1="367.56" y1="296.9" x2="367.56" y2="300.3" stroke="#111" stroke-width="1.3"/>
<line x1="274.50" y1="296.9" x2="274.50" y2="301.5" stroke="#111" stroke-width="1.5"/>
<line x1="306.00" y1="296.9" x2="306.00" y2="301.5" stroke="#111" stroke-width="1.5"/>
<line x1="337.50" y1="296.9" x2="337.50" y2="301.5" stroke="#111" stroke-width="1.5"/>
<clipPath id="p12"><rect x="386.5" y="171.1" width="126.0" height="125.8"/></clipPath><g clip-path="url(#p12)">
<path d="M376.5,207.2 386.5,207.2 387.5,207.4 388.5,207.2 389.5,207.3 390.5,207.5 391.4,207.5 392.4,207.4 393.4,207.2 394.4,207.3 395.4,207.5 396.4,207.3 397.4,207.2 398.3,207.3 399.3,207.2 400.2,207.0 401.2,206.7 402.1,206.7 403.1,206.5 404.0,206.4 405.0,206.1 406.0,205.8 407.0,205.7 408.0,205.5 409.0,205.1 410.0,205.2 411.0,204.5 412.0,204.5 413.0,204.0 414.1,203.4 415.1,202.9 416.2,202.3 417.2,201.8 418.3,201.1 419.4,199.4 420.4,197.9 421.5,196.7 422.6,194.6 423.8,193.3 424.9,191.3 425.9,187.8 426.9,186.2 427.9,183.4 429.0,180.9 430.1,178.2 431.0,174.7 431.9,175.3 433.0,175.9 434.1,177.2 435.1,181.2 436.2,185.2 437.2,188.7 438.3,193.7 439.4,198.0 440.5,201.6 441.4,204.0 442.2,205.9 443.1,207.0 444.0,207.7 444.9,208.2 445.7,208.4 446.6,208.4 447.6,208.6 448.7,208.8 449.7,208.9 450.8,208.9 451.8,208.9 452.8,209.0 453.8,209.0 454.8,209.0 455.8,209.0 456.8,209.0 457.8,209.0 458.8,209.0 459.8,209.0 460.8,209.0 461.8,209.0 462.7,209.0 463.7,209.0 464.7,209.1 465.7,209.1 466.7,209.1 467.7,209.1 468.7,209.1 469.7,209.1 470.7,209.1 471.7,209.1 472.7,209.1 473.7,209.1 474.7,209.1 475.7,209.1 476.7,209.1 477.7,209.1 478.7,209.1 479.7,209.1 480.7,209.1 481.7,209.1 482.6,209.1 483.6,209.1 484.6,209.1 485.6,209.1 486.6,209.1 487.6,209.1 488.6,209.1 489.6,209.1 490.6,209.1 491.6,209.1 492.6,209.1 493.6,209.1 494.6,209.1 495.6,209.1 496.6,209.1 497.6,209.1 498.6,209.1 499.6,209.1 500.6,209.1 501.6,209.1 502.5,209.1 503.5,209.1 504.5,209.1 505.5,209.1 506.5,209.1 507.5,209.1 508.5,209.1 509.5,209.1 510.5,209.1 511.5,209.1 512.5,209.1 522.5,209.1 522.5,306.9 376.5,306.9Z" fill="#fff" stroke="#161662" stroke-width="2.00" stroke-linejoin="round"/>
<path d="M376.5,226.1 386.5,226.1 387.5,226.1 388.5,226.0 389.6,226.0 390.6,226.0 391.6,226.0 392.6,226.0 393.7,225.9 394.7,225.9 395.7,225.9 396.7,225.8 397.8,225.8 398.8,225.7 399.8,225.7 400.8,225.7 401.7,225.5 402.7,225.5 403.7,225.3 404.6,225.4 405.6,225.2 406.6,225.1 407.5,225.0 408.5,224.5 409.5,224.7 410.5,224.3 411.5,224.0 412.4,223.8 413.4,223.5 414.4,223.1 415.4,222.6 416.4,221.8 417.5,221.3 418.5,220.4 419.6,219.8 420.6,218.0 421.6,216.6 422.6,215.2 423.5,213.6 424.5,210.2 425.4,207.1 426.3,204.3 427.2,199.6 428.2,197.0 429.3,195.6 430.3,193.7 431.3,192.0 432.4,192.8 433.6,194.5 434.7,199.4 435.8,204.1 436.9,208.8 437.9,214.1 438.8,217.2 439.6,220.7 440.5,222.5 441.4,223.9 442.2,224.8 443.1,225.2 444.0,225.8 445.0,226.0 446.0,226.2 447.0,226.3 448.0,226.4 449.0,226.4 450.0,226.4 451.0,226.4 452.0,226.4 453.0,226.4 454.0,226.5 455.0,226.5 456.0,226.5 457.1,226.5 458.1,226.5 459.1,226.5 460.1,226.5 461.1,226.5 462.1,226.5 463.1,226.5 464.1,226.6 465.1,226.6 466.1,226.6 467.1,226.6 468.1,226.6 469.2,226.6 470.2,226.6 471.2,226.6 472.2,226.6 473.2,226.6 474.2,226.6 475.2,226.6 476.2,226.6 477.2,226.6 478.2,226.6 479.2,226.6 480.2,226.6 481.2,226.6 482.3,226.6 483.3,226.6 484.3,226.6 485.3,226.6 486.3,226.6 487.3,226.6 488.3,226.6 489.3,226.6 490.3,226.6 491.3,226.6 492.3,226.6 493.3,226.6 494.4,226.6 495.4,226.7 496.4,226.7 497.4,226.7 498.4,226.7 499.4,226.7 500.4,226.7 501.4,226.7 502.4,226.7 503.4,226.7 504.4,226.7 505.4,226.7 506.5,226.7 507.5,226.7 508.5,226.7 509.5,226.7 510.5,226.7 511.5,226.7 512.5,226.7 522.5,226.7 522.5,306.9 376.5,306.9Z" fill="#fff" stroke="#8a2580" stroke-width="2.00" stroke-linejoin="round"/>
<path d="M376.5,243.6 386.5,243.6 387.5,243.6 388.5,243.6 389.6,243.6 390.6,243.5 391.6,243.5 392.6,243.5 393.7,243.5 394.7,243.5 395.7,243.3 396.7,243.2 397.8,243.4 398.8,243.2 399.8,243.2 400.8,243.2 401.7,242.8 402.7,243.0 403.7,242.7 404.6,242.6 405.6,242.4 406.6,242.3 407.5,242.3 408.5,241.9 409.5,241.8 410.5,241.5 411.5,241.1 412.4,240.7 413.4,240.2 414.4,239.9 415.4,239.5 416.4,238.7 417.5,237.9 418.5,237.3 419.6,235.5 420.6,234.0 421.6,232.6 422.6,229.8 423.5,227.1 424.5,224.2 425.4,221.3 426.3,218.4 427.2,216.1 428.2,213.4 429.3,211.6 430.7,210.6 431.6,212.7 432.4,214.4 433.4,219.0 434.5,223.9 435.5,227.9 436.5,232.1 437.6,235.9 438.8,239.5 439.9,240.8 441.1,241.7 442.2,242.3 443.2,242.9 444.2,243.2 445.2,243.2 446.3,243.5 447.3,243.6 448.3,243.6 449.3,243.7 450.3,243.7 451.3,243.7 452.3,243.7 453.3,243.8 454.3,243.8 455.3,243.8 456.3,243.8 457.3,243.8 458.3,243.9 459.3,243.9 460.3,243.9 461.3,243.9 462.3,243.9 463.3,243.9 464.4,243.9 465.4,244.0 466.4,244.0 467.4,244.0 468.4,244.0 469.4,244.0 470.4,244.0 471.4,244.0 472.4,244.0 473.4,244.0 474.4,244.0 475.4,244.1 476.4,244.1 477.4,244.1 478.4,244.1 479.4,244.1 480.4,244.1 481.4,244.1 482.4,244.1 483.4,244.1 484.4,244.1 485.4,244.1 486.4,244.1 487.4,244.1 488.4,244.1 489.4,244.1 490.4,244.1 491.4,244.1 492.4,244.1 493.4,244.1 494.4,244.1 495.4,244.1 496.4,244.1 497.5,244.2 498.5,244.2 499.5,244.2 500.5,244.2 501.5,244.2 502.5,244.2 503.5,244.2 504.5,244.2 505.5,244.2 506.5,244.2 507.5,244.2 508.5,244.2 509.5,244.2 510.5,244.2 511.5,244.2 512.5,244.2 522.5,244.2 522.5,306.9 376.5,306.9Z" fill="#fff" stroke="#145e36" stroke-width="2.00" stroke-linejoin="round"/>
<path d="M376.5,261.0 386.5,261.0 387.5,260.9 388.5,261.0 389.6,260.9 390.6,260.8 391.6,261.0 392.6,260.8 393.7,260.8 394.7,260.8 395.7,260.7 396.7,260.5 397.8,260.6 398.8,260.4 399.8,260.6 400.8,260.2 401.9,260.3 402.9,260.0 404.0,259.8 405.0,259.9 406.0,259.3 407.1,259.6 408.1,259.2 409.2,259.1 410.2,258.5 411.2,258.4 412.2,258.1 413.2,258.0 414.2,257.6 415.2,257.0 416.2,256.9 417.2,255.8 418.2,255.0 419.2,253.8 420.3,252.9 421.3,251.7 422.3,249.6 423.2,247.9 424.1,244.8 424.9,242.6 425.8,239.1 426.7,237.2 427.5,233.3 428.4,231.2 429.6,228.3 430.7,227.2 431.7,227.3 432.7,229.0 433.8,232.4 434.8,235.9 435.9,240.5 437.1,246.5 438.2,250.8 439.3,254.6 440.3,256.9 441.2,258.4 442.2,259.4 443.2,259.8 444.3,260.3 445.3,260.6 446.4,260.8 447.4,261.0 448.4,261.2 449.4,261.3 450.3,261.5 451.3,261.6 452.3,261.7 453.2,261.7 454.2,261.8 455.2,261.8 456.2,261.8 457.2,261.8 458.2,261.8 459.2,261.8 460.2,261.8 461.2,261.8 462.2,261.8 463.2,261.8 464.2,261.8 465.3,261.8 466.3,261.8 467.3,261.8 468.3,261.8 469.3,261.8 470.3,261.8 471.3,261.8 472.3,261.8 473.3,261.8 474.3,261.8 475.3,261.8 476.3,261.8 477.3,261.8 478.3,261.8 479.3,261.8 480.3,261.8 481.3,261.8 482.3,261.8 483.3,261.8 484.4,261.8 485.4,261.8 486.4,261.8 487.4,261.8 488.4,261.8 489.4,261.8 490.4,261.8 491.4,261.8 492.4,261.8 493.4,261.8 494.4,261.8 495.4,261.8 496.4,261.8 497.4,261.8 498.4,261.8 499.4,261.8 500.4,261.8 501.4,261.8 502.4,261.8 503.5,261.8 504.5,261.8 505.5,261.8 506.5,261.8 507.5,261.8 508.5,261.8 509.5,261.8 510.5,261.8 511.5,261.8 512.5,261.8 522.5,261.8 522.5,306.9 376.5,306.9Z" fill="#fff" stroke="#d62428" stroke-width="2.00" stroke-linejoin="round"/>
<path d="M376.5,278.8 386.5,278.8 387.5,278.8 388.5,278.8 389.6,278.8 390.6,278.7 391.6,278.7 392.6,278.7 393.7,278.6 394.7,278.6 395.7,278.6 396.7,278.6 397.8,278.4 398.8,278.4 399.8,278.3 400.8,278.2 401.9,278.1 402.9,278.1 404.0,277.9 405.0,278.0 406.0,277.6 407.1,277.7 408.1,277.6 409.2,277.3 410.2,277.3 411.2,277.0 412.2,276.6 413.2,276.4 414.2,276.1 415.2,275.8 416.2,275.0 417.2,274.4 418.2,273.6 419.2,272.6 420.3,272.2 421.3,270.3 422.3,268.2 423.4,265.8 424.4,262.3 425.5,258.6 426.7,255.1 427.9,250.7 429.0,247.3 430.1,246.2 431.0,245.1 431.9,244.3 432.8,245.4 433.6,246.6 434.4,251.0 435.3,256.3 436.2,260.0 437.1,265.3 438.2,269.8 439.3,273.9 440.3,275.6 441.2,277.0 442.2,278.1 443.2,278.5 444.2,278.8 445.2,278.9 446.3,279.0 447.3,279.0 448.3,279.0 449.3,279.1 450.3,279.1 451.3,279.1 452.3,279.1 453.3,279.1 454.3,279.2 455.3,279.2 456.3,279.2 457.3,279.2 458.3,279.2 459.3,279.2 460.3,279.2 461.3,279.2 462.3,279.2 463.3,279.3 464.4,279.3 465.4,279.3 466.4,279.3 467.4,279.3 468.4,279.3 469.4,279.3 470.4,279.3 471.4,279.3 472.4,279.3 473.4,279.3 474.4,279.3 475.4,279.3 476.4,279.3 477.4,279.3 478.4,279.3 479.4,279.3 480.4,279.3 481.4,279.3 482.4,279.3 483.4,279.3 484.4,279.3 485.4,279.3 486.4,279.3 487.4,279.3 488.4,279.3 489.4,279.3 490.4,279.3 491.4,279.3 492.4,279.3 493.4,279.3 494.4,279.3 495.4,279.3 496.4,279.3 497.5,279.3 498.5,279.3 499.5,279.3 500.5,279.3 501.5,279.3 502.5,279.3 503.5,279.3 504.5,279.3 505.5,279.3 506.5,279.3 507.5,279.3 508.5,279.3 509.5,279.3 510.5,279.3 511.5,279.3 512.5,279.3 522.5,279.3 522.5,306.9 376.5,306.9Z" fill="#fff" stroke="#e68634" stroke-width="2.00" stroke-linejoin="round"/>
<path d="M376.5,296.9 386.5,296.9 387.5,296.9 388.5,296.9 389.6,296.8 390.6,296.8 391.6,296.8 392.6,296.8 393.7,296.8 394.7,296.7 395.7,296.7 396.7,296.7 397.8,296.6 398.8,296.6 399.8,296.5 400.8,296.4 401.8,296.3 402.8,296.2 403.8,296.1 404.8,295.9 405.8,295.5 406.8,295.4 407.8,295.1 408.8,294.8 409.8,294.3 410.7,294.0 411.7,293.7 412.7,293.4 413.7,292.8 414.7,292.1 415.8,291.4 416.8,290.6 417.9,289.7 418.9,288.3 419.9,286.8 420.8,285.7 421.8,283.5 422.7,281.8 423.6,278.6 424.6,275.2 425.5,272.5 426.5,266.8 427.5,264.4 428.9,262.4 429.8,263.7 430.7,265.4 431.7,266.5 432.7,269.1 433.6,273.3 434.5,277.8 435.5,283.6 436.5,288.4 437.6,292.3 438.8,294.5 439.9,295.8 441.1,296.3 442.2,296.5 443.2,296.5 444.2,296.6 445.2,296.6 446.2,296.6 447.2,296.7 448.2,296.7 449.2,296.7 450.2,296.7 451.2,296.7 452.2,296.8 453.2,296.8 454.3,296.8 455.3,296.8 456.3,296.8 457.3,296.8 458.3,296.9 459.3,296.9 460.3,296.9 461.3,296.9 462.3,296.9 463.3,296.9 464.3,296.9 465.3,296.9 466.3,296.9 467.3,296.9 468.3,296.9 469.3,296.9 470.3,296.9 471.3,296.9 472.3,296.9 473.3,296.9 474.3,296.9 475.3,296.9 476.3,296.9 477.4,296.9 478.4,296.9 479.4,296.9 480.4,296.9 481.4,296.9 482.4,296.9 483.4,296.9 484.4,296.9 485.4,296.9 486.4,296.9 487.4,296.9 488.4,296.9 489.4,296.9 490.4,296.9 491.4,296.9 492.4,296.9 493.4,296.9 494.4,296.9 495.4,296.9 496.4,296.9 497.4,296.9 498.4,296.9 499.4,296.9 500.4,296.9 501.5,296.9 502.5,296.9 503.5,296.9 504.5,296.9 505.5,296.9 506.5,296.9 507.5,296.9 508.5,296.9 509.5,296.9 510.5,296.9 511.5,296.9 512.5,296.9 522.5,296.9 522.5,306.9 376.5,306.9Z" fill="#fff" stroke="#302214" stroke-width="2.00" stroke-linejoin="round"/>
</g>
<path d="M386.5,301.5 V171.1 H512.5 V301.5" fill="none" stroke="#111" stroke-width="1.8" stroke-linecap="butt" stroke-linejoin="miter"/>
<line x1="386.5" y1="296.9" x2="512.5" y2="296.9" stroke="#111" stroke-width="1.8"/>
<line x1="395.98" y1="296.9" x2="395.98" y2="300.3" stroke="#111" stroke-width="1.3"/>
<line x1="401.53" y1="296.9" x2="401.53" y2="300.3" stroke="#111" stroke-width="1.3"/>
<line x1="405.46" y1="296.9" x2="405.46" y2="300.3" stroke="#111" stroke-width="1.3"/>
<line x1="408.52" y1="296.9" x2="408.52" y2="300.3" stroke="#111" stroke-width="1.3"/>
<line x1="411.01" y1="296.9" x2="411.01" y2="300.3" stroke="#111" stroke-width="1.3"/>
<line x1="413.12" y1="296.9" x2="413.12" y2="300.3" stroke="#111" stroke-width="1.3"/>
<line x1="414.95" y1="296.9" x2="414.95" y2="300.3" stroke="#111" stroke-width="1.3"/>
<line x1="416.56" y1="296.9" x2="416.56" y2="300.3" stroke="#111" stroke-width="1.3"/>
<line x1="427.48" y1="296.9" x2="427.48" y2="300.3" stroke="#111" stroke-width="1.3"/>
<line x1="433.03" y1="296.9" x2="433.03" y2="300.3" stroke="#111" stroke-width="1.3"/>
<line x1="436.96" y1="296.9" x2="436.96" y2="300.3" stroke="#111" stroke-width="1.3"/>
<line x1="440.02" y1="296.9" x2="440.02" y2="300.3" stroke="#111" stroke-width="1.3"/>
<line x1="442.51" y1="296.9" x2="442.51" y2="300.3" stroke="#111" stroke-width="1.3"/>
<line x1="444.62" y1="296.9" x2="444.62" y2="300.3" stroke="#111" stroke-width="1.3"/>
<line x1="446.45" y1="296.9" x2="446.45" y2="300.3" stroke="#111" stroke-width="1.3"/>
<line x1="448.06" y1="296.9" x2="448.06" y2="300.3" stroke="#111" stroke-width="1.3"/>
<line x1="458.98" y1="296.9" x2="458.98" y2="300.3" stroke="#111" stroke-width="1.3"/>
<line x1="464.53" y1="296.9" x2="464.53" y2="300.3" stroke="#111" stroke-width="1.3"/>
<line x1="468.46" y1="296.9" x2="468.46" y2="300.3" stroke="#111" stroke-width="1.3"/>
<line x1="471.52" y1="296.9" x2="471.52" y2="300.3" stroke="#111" stroke-width="1.3"/>
<line x1="474.01" y1="296.9" x2="474.01" y2="300.3" stroke="#111" stroke-width="1.3"/>
<line x1="476.12" y1="296.9" x2="476.12" y2="300.3" stroke="#111" stroke-width="1.3"/>
<line x1="477.95" y1="296.9" x2="477.95" y2="300.3" stroke="#111" stroke-width="1.3"/>
<line x1="479.56" y1="296.9" x2="479.56" y2="300.3" stroke="#111" stroke-width="1.3"/>
<line x1="490.48" y1="296.9" x2="490.48" y2="300.3" stroke="#111" stroke-width="1.3"/>
<line x1="496.03" y1="296.9" x2="496.03" y2="300.3" stroke="#111" stroke-width="1.3"/>
<line x1="499.96" y1="296.9" x2="499.96" y2="300.3" stroke="#111" stroke-width="1.3"/>
<line x1="503.02" y1="296.9" x2="503.02" y2="300.3" stroke="#111" stroke-width="1.3"/>
<line x1="505.51" y1="296.9" x2="505.51" y2="300.3" stroke="#111" stroke-width="1.3"/>
<line x1="507.62" y1="296.9" x2="507.62" y2="300.3" stroke="#111" stroke-width="1.3"/>
<line x1="509.45" y1="296.9" x2="509.45" y2="300.3" stroke="#111" stroke-width="1.3"/>
<line x1="511.06" y1="296.9" x2="511.06" y2="300.3" stroke="#111" stroke-width="1.3"/>
<line x1="418.00" y1="296.9" x2="418.00" y2="301.5" stroke="#111" stroke-width="1.5"/>
<line x1="449.50" y1="296.9" x2="449.50" y2="301.5" stroke="#111" stroke-width="1.5"/>
<line x1="481.00" y1="296.9" x2="481.00" y2="301.5" stroke="#111" stroke-width="1.5"/>
<clipPath id="p20"><rect x="99.0" y="305.7" width="126.0" height="125.5"/></clipPath><g clip-path="url(#p20)">
<path d="M89.0,343.4 99.0,343.4 100.0,343.3 101.0,343.2 102.0,343.1 103.0,343.0 104.0,342.8 105.0,342.8 106.0,342.7 106.9,342.7 107.9,342.5 108.8,342.6 109.8,342.5 110.8,342.4 111.7,342.4 112.7,342.3 113.6,342.1 114.6,342.1 115.6,341.9 116.5,341.7 117.5,341.5 118.5,341.3 119.4,341.1 120.4,340.8 121.3,340.5 122.3,340.1 123.3,339.6 124.2,339.1 125.2,338.7 126.2,338.0 127.1,337.5 128.1,336.7 129.1,335.9 130.0,335.2 130.9,333.9 131.9,333.0 132.8,332.2 133.8,330.9 134.8,330.1 135.7,329.0 136.7,327.7 137.7,326.9 138.6,325.6 139.6,324.1 140.6,322.7 141.5,321.4 142.5,319.7 143.4,318.2 144.4,316.5 145.4,314.9 146.3,312.4 147.3,310.6 148.2,309.4 149.2,308.9 150.2,309.7 151.2,311.8 152.2,315.7 153.1,320.2 154.1,324.6 155.0,328.5 156.2,331.9 157.5,334.4 158.5,335.9 159.5,337.0 160.5,338.0 161.5,338.7 162.6,339.2 163.6,339.7 164.6,340.1 165.7,340.3 166.7,340.6 167.8,340.7 168.9,341.0 169.9,341.0 171.0,341.2 172.0,341.2 173.0,341.4 174.0,341.4 175.0,341.5 176.0,341.6 176.9,341.5 177.9,341.6 178.9,341.7 179.9,341.8 180.9,341.8 181.9,341.9 182.9,342.0 184.0,342.0 185.0,342.0 186.0,342.1 187.0,342.2 188.1,342.3 189.1,342.3 190.1,342.4 191.1,342.5 192.2,342.5 193.2,342.5 194.2,342.6 195.2,342.6 196.3,342.7 197.3,342.8 198.3,342.8 199.2,342.8 200.2,342.9 201.2,342.9 202.2,343.0 203.2,343.0 204.1,343.0 205.1,343.0 206.1,343.1 207.1,343.1 208.0,343.1 209.0,343.1 210.0,343.2 211.0,343.2 212.0,343.2 213.0,343.2 214.0,343.3 215.0,343.3 216.0,343.3 217.0,343.3 218.0,343.3 219.0,343.3 220.0,343.4 221.0,343.4 222.0,343.4 223.0,343.4 224.0,343.4 225.0,343.4 235.0,343.4 235.0,441.2 89.0,441.2Z" fill="#fff" stroke="#161662" stroke-width="2.00" stroke-linejoin="round"/>
<path d="M89.0,361.0 99.0,361.0 100.0,361.0 101.0,360.9 102.0,360.9 103.0,360.9 104.0,360.8 105.0,360.7 106.0,360.6 106.9,360.5 107.9,360.4 108.8,360.3 109.8,360.2 110.8,360.2 111.7,360.0 112.7,359.8 113.6,359.7 114.6,359.5 115.5,359.4 116.5,359.2 117.5,358.9 118.4,358.6 119.4,358.2 120.4,357.8 121.3,357.4 122.3,357.0 123.3,356.6 124.3,356.0 125.2,355.5 126.2,354.9 127.2,354.3 128.1,353.7 129.1,352.6 130.0,352.1 130.9,351.1 131.9,350.2 132.8,349.3 133.8,348.2 134.8,346.9 135.7,345.6 136.7,344.3 137.7,343.0 138.6,341.8 139.6,340.4 140.6,339.0 141.5,338.3 142.5,336.9 143.4,336.3 144.4,335.4 145.4,334.6 146.3,334.1 147.3,334.0 148.3,333.8 149.2,334.3 150.2,334.7 151.4,333.8 152.7,331.5 153.8,330.1 155.0,328.3 155.9,327.0 156.9,327.2 158.1,328.2 159.2,329.7 160.4,332.7 161.7,335.8 162.7,337.8 163.6,340.0 164.6,341.7 165.6,342.9 166.6,344.3 167.5,345.8 168.5,347.1 169.4,348.4 170.4,349.6 171.3,350.3 172.3,351.4 173.2,352.2 174.2,353.0 175.2,353.6 176.1,354.2 177.1,354.8 178.1,355.3 179.0,355.8 180.0,356.1 180.9,356.6 181.9,356.9 182.9,357.2 183.8,357.5 184.8,357.9 185.7,358.1 186.7,358.2 187.7,358.4 188.6,358.6 189.6,358.9 190.5,359.0 191.5,359.1 192.5,359.4 193.4,359.5 194.4,359.6 195.4,359.7 196.3,359.9 197.3,359.9 198.3,360.0 199.3,360.1 200.2,360.2 201.2,360.3 202.2,360.4 203.2,360.4 204.1,360.5 205.1,360.6 206.1,360.6 207.1,360.6 208.0,360.7 209.0,360.7 210.0,360.7 211.0,360.8 212.0,360.8 213.0,360.8 214.0,360.8 215.0,360.8 216.0,360.9 217.0,360.9 218.0,360.9 219.0,360.9 220.0,360.9 221.0,360.9 222.0,360.9 223.0,361.0 224.0,361.0 225.0,361.0 235.0,361.0 235.0,441.2 89.0,441.2Z" fill="#fff" stroke="#8a2580" stroke-width="2.00" stroke-linejoin="round"/>
<path d="M89.0,378.5 99.0,378.5 100.0,378.4 101.0,378.3 102.0,378.2 103.0,378.1 104.0,378.0 105.0,377.9 106.0,377.9 106.9,377.8 107.9,377.7 108.8,377.7 109.8,377.6 110.8,377.5 111.7,377.3 112.7,377.3 113.6,377.2 114.6,377.1 115.6,376.9 116.5,376.7 117.5,376.6 118.5,376.5 119.4,376.3 120.4,376.2 121.3,375.8 122.3,375.4 123.3,375.0 124.2,374.6 125.2,374.2 126.2,373.6 127.1,373.2 128.1,372.4 129.0,371.5 130.0,370.6 131.0,369.4 131.9,368.0 132.9,366.2 133.9,364.7 134.8,362.7 135.8,361.1 136.8,358.9 137.7,357.3 138.7,355.3 139.6,353.2 140.6,351.6 141.6,349.7 142.5,348.3 143.5,347.2 144.7,346.3 145.8,345.5 147.1,346.3 148.3,347.6 149.3,348.7 150.2,350.1 151.2,351.2 152.3,352.5 153.5,352.9 154.8,352.1 156.0,350.4 156.9,348.9 157.9,347.9 158.8,346.5 160.0,345.6 161.2,345.2 162.4,346.3 163.7,347.6 164.6,349.3 165.6,351.1 166.5,353.4 167.5,355.6 168.4,358.0 169.4,360.2 170.4,362.1 171.4,363.9 172.3,365.0 173.3,366.4 174.2,367.5 175.2,368.9 176.2,369.6 177.1,370.6 178.1,371.3 179.0,371.8 180.0,372.6 180.9,373.1 181.9,373.6 182.9,374.0 183.8,374.5 184.8,374.8 185.7,375.0 186.7,375.4 187.7,375.7 188.6,375.8 189.6,376.2 190.5,376.4 191.5,376.4 192.5,376.7 193.4,376.9 194.4,377.0 195.4,377.1 196.3,377.2 197.3,377.3 198.3,377.5 199.3,377.5 200.2,377.7 201.2,377.7 202.2,377.8 203.2,377.9 204.1,378.0 205.1,378.0 206.1,378.1 207.1,378.1 208.1,378.2 209.0,378.2 210.0,378.2 211.0,378.2 212.0,378.3 213.0,378.3 214.0,378.3 215.0,378.4 216.0,378.4 217.0,378.4 218.0,378.4 219.0,378.4 220.0,378.5 221.0,378.5 222.0,378.5 223.0,378.5 224.0,378.5 225.0,378.5 235.0,378.5 235.0,441.2 89.0,441.2Z" fill="#fff" stroke="#145e36" stroke-width="2.00" stroke-linejoin="round"/>
<path d="M89.0,396.1 99.0,396.1 100.0,396.0 101.0,396.0 102.0,395.9 103.0,395.8 104.0,395.8 105.0,395.7 106.0,395.7 106.9,395.6 107.9,395.6 108.8,395.6 109.8,395.6 110.8,395.6 111.7,395.5 112.7,395.5 113.6,395.5 114.6,395.4 115.5,395.4 116.5,395.3 117.5,395.2 118.4,395.1 119.4,395.1 120.4,395.0 121.3,394.9 122.3,394.9 123.3,394.7 124.2,394.7 125.2,394.4 126.2,394.3 127.1,394.0 128.1,393.8 129.1,393.5 130.0,393.3 131.0,392.9 131.9,392.6 132.9,392.3 133.8,391.8 134.8,391.1 135.7,390.6 136.7,390.0 137.7,389.1 138.6,388.0 139.6,386.8 140.6,385.3 141.5,384.0 142.5,382.4 143.4,380.3 144.4,377.7 145.3,375.1 146.3,372.7 147.3,369.9 148.2,367.1 149.2,364.8 150.4,363.0 151.7,361.9 152.8,362.3 154.0,364.0 155.2,366.8 156.5,370.0 157.7,373.0 158.8,375.2 159.8,376.3 160.8,377.5 161.7,378.6 162.7,379.5 163.6,380.9 164.6,382.1 165.5,383.0 166.5,384.4 167.4,385.2 168.4,386.3 169.4,387.3 170.3,388.3 171.3,389.1 172.3,389.8 173.2,390.5 174.2,391.2 175.1,391.7 176.1,392.2 177.0,392.7 178.0,393.0 179.0,393.3 179.9,393.5 180.9,393.8 181.9,393.9 182.8,394.0 183.8,394.1 184.8,394.2 185.8,394.4 186.7,394.3 187.7,394.5 188.7,394.6 189.7,394.7 190.8,394.8 191.8,394.9 192.8,395.0 193.8,395.1 194.9,395.2 195.9,395.2 196.9,395.3 197.9,395.3 199.0,395.4 200.0,395.4 201.0,395.5 202.0,395.6 203.0,395.6 204.0,395.7 205.0,395.7 206.0,395.7 207.0,395.8 208.0,395.8 209.0,395.8 210.0,395.9 211.0,395.9 212.0,395.9 213.0,395.9 214.0,396.0 215.0,396.0 216.0,396.0 217.0,396.0 218.0,396.0 219.0,396.0 220.0,396.0 221.0,396.1 222.0,396.1 223.0,396.1 224.0,396.1 225.0,396.1 235.0,396.1 235.0,441.2 89.0,441.2Z" fill="#fff" stroke="#d62428" stroke-width="2.00" stroke-linejoin="round"/>
<path d="M89.0,413.6 99.0,413.6 100.0,413.6 101.0,413.5 102.0,413.5 103.0,413.4 104.0,413.4 105.0,413.3 106.0,413.3 107.1,413.3 108.1,413.3 109.1,413.3 110.1,413.3 111.2,413.2 112.2,413.2 113.2,413.2 114.2,413.2 115.3,413.2 116.3,413.2 117.3,413.1 118.3,413.1 119.4,413.0 120.4,412.9 121.4,412.9 122.5,412.8 123.5,412.7 124.5,412.6 125.6,412.5 126.6,412.4 127.6,412.3 128.6,412.2 129.7,412.0 130.7,411.8 131.7,411.6 132.8,411.4 133.8,411.3 134.8,411.1 135.7,410.9 136.7,410.6 137.7,410.2 138.7,409.9 139.6,409.6 140.6,409.4 141.6,409.0 142.5,408.7 143.5,408.4 144.5,408.0 145.4,407.7 146.4,407.3 147.3,407.1 148.3,406.7 149.3,406.2 150.2,406.0 151.2,405.3 152.2,405.0 153.1,404.6 154.1,403.9 155.0,402.6 156.0,400.6 156.9,397.6 157.9,395.1 158.9,392.4 159.8,390.1 160.8,387.2 161.8,385.3 162.7,383.2 163.7,381.4 164.7,380.3 165.6,379.2 166.8,380.7 168.1,382.8 169.0,384.2 169.9,386.3 170.8,388.4 171.8,390.7 172.8,393.2 173.8,396.2 174.9,398.2 176.0,400.7 177.1,402.6 178.1,404.4 179.1,405.8 180.0,407.4 181.0,408.4 182.0,409.2 182.9,409.6 183.9,410.0 184.8,410.3 185.8,410.8 186.7,411.0 187.7,411.3 188.7,411.4 189.6,411.6 190.6,411.8 191.5,411.9 192.5,412.1 193.5,412.1 194.4,412.3 195.4,412.4 196.3,412.4 197.3,412.5 198.3,412.6 199.2,412.7 200.2,412.8 201.2,412.9 202.1,413.0 203.1,413.0 204.0,413.1 205.0,413.1 206.0,413.2 207.0,413.2 208.0,413.3 209.0,413.3 210.0,413.3 211.0,413.4 212.0,413.4 213.0,413.4 214.0,413.4 215.0,413.5 216.0,413.5 217.0,413.5 218.0,413.5 219.0,413.6 220.0,413.6 221.0,413.6 222.0,413.6 223.0,413.6 224.0,413.6 225.0,413.6 235.0,413.6 235.0,441.2 89.0,441.2Z" fill="#fff" stroke="#e68634" stroke-width="2.00" stroke-linejoin="round"/>
<path d="M89.0,431.2 99.0,431.2 100.0,431.2 101.0,431.2 102.0,431.2 103.0,431.2 104.0,431.2 105.0,431.2 106.1,431.2 107.1,431.2 108.1,431.2 109.1,431.2 110.1,431.2 111.1,431.2 112.1,431.2 113.1,431.2 114.1,431.2 115.1,431.2 116.1,431.2 117.1,431.2 118.2,431.2 119.2,431.1 120.2,431.1 121.2,431.1 122.2,431.1 123.2,431.0 124.2,431.0 125.2,431.0 126.1,430.9 127.1,430.9 128.0,430.8 129.0,430.7 130.0,430.6 130.9,430.5 131.9,430.3 132.8,430.1 133.8,429.9 134.8,429.6 135.7,429.3 136.7,428.9 137.7,428.6 138.6,428.2 139.6,427.6 140.5,427.2 141.5,426.4 142.5,425.8 143.4,425.1 144.4,424.2 145.4,423.4 146.3,422.5 147.3,421.6 148.3,421.4 149.2,420.7 150.2,420.4 151.1,420.0 152.1,419.4 153.1,419.1 154.1,418.8 155.0,418.6 156.0,417.7 156.9,416.6 157.9,415.5 158.8,413.8 159.8,412.1 160.8,410.0 161.8,407.7 162.7,404.8 163.7,402.9 164.6,400.4 165.6,399.1 166.5,397.6 167.7,397.0 168.8,396.6 170.1,398.4 171.3,400.7 172.3,403.4 173.2,406.3 174.2,409.3 175.2,412.5 176.1,415.4 177.1,418.3 178.1,420.3 179.1,422.3 180.0,424.3 181.0,425.7 182.0,426.8 182.9,427.8 183.9,428.5 184.8,429.1 185.8,429.5 186.8,429.9 187.7,430.2 188.7,430.4 189.7,430.6 190.6,430.7 191.6,430.8 192.5,430.9 193.5,430.9 194.5,430.9 195.5,431.0 196.5,431.0 197.4,431.0 198.4,431.1 199.4,431.1 200.4,431.1 201.4,431.1 202.4,431.1 203.3,431.2 204.3,431.2 205.3,431.2 206.3,431.2 207.3,431.2 208.3,431.2 209.2,431.2 210.2,431.2 211.2,431.2 212.2,431.2 213.2,431.2 214.2,431.2 215.2,431.2 216.1,431.2 217.1,431.2 218.1,431.2 219.1,431.2 220.1,431.2 221.1,431.2 222.0,431.2 223.0,431.2 224.0,431.2 225.0,431.2 235.0,431.2 235.0,441.2 89.0,441.2Z" fill="#fff" stroke="#302214" stroke-width="2.00" stroke-linejoin="round"/>
</g>
<path d="M99.0,435.8 V305.7 H225.0 V435.8" fill="none" stroke="#111" stroke-width="1.8" stroke-linecap="butt" stroke-linejoin="miter"/>
<line x1="99.0" y1="431.2" x2="225.0" y2="431.2" stroke="#111" stroke-width="1.8"/>
<line x1="108.48" y1="431.2" x2="108.48" y2="434.6" stroke="#111" stroke-width="1.3"/>
<line x1="114.03" y1="431.2" x2="114.03" y2="434.6" stroke="#111" stroke-width="1.3"/>
<line x1="117.96" y1="431.2" x2="117.96" y2="434.6" stroke="#111" stroke-width="1.3"/>
<line x1="121.02" y1="431.2" x2="121.02" y2="434.6" stroke="#111" stroke-width="1.3"/>
<line x1="123.51" y1="431.2" x2="123.51" y2="434.6" stroke="#111" stroke-width="1.3"/>
<line x1="125.62" y1="431.2" x2="125.62" y2="434.6" stroke="#111" stroke-width="1.3"/>
<line x1="127.45" y1="431.2" x2="127.45" y2="434.6" stroke="#111" stroke-width="1.3"/>
<line x1="129.06" y1="431.2" x2="129.06" y2="434.6" stroke="#111" stroke-width="1.3"/>
<line x1="139.98" y1="431.2" x2="139.98" y2="434.6" stroke="#111" stroke-width="1.3"/>
<line x1="145.53" y1="431.2" x2="145.53" y2="434.6" stroke="#111" stroke-width="1.3"/>
<line x1="149.46" y1="431.2" x2="149.46" y2="434.6" stroke="#111" stroke-width="1.3"/>
<line x1="152.52" y1="431.2" x2="152.52" y2="434.6" stroke="#111" stroke-width="1.3"/>
<line x1="155.01" y1="431.2" x2="155.01" y2="434.6" stroke="#111" stroke-width="1.3"/>
<line x1="157.12" y1="431.2" x2="157.12" y2="434.6" stroke="#111" stroke-width="1.3"/>
<line x1="158.95" y1="431.2" x2="158.95" y2="434.6" stroke="#111" stroke-width="1.3"/>
<line x1="160.56" y1="431.2" x2="160.56" y2="434.6" stroke="#111" stroke-width="1.3"/>
<line x1="171.48" y1="431.2" x2="171.48" y2="434.6" stroke="#111" stroke-width="1.3"/>
<line x1="177.03" y1="431.2" x2="177.03" y2="434.6" stroke="#111" stroke-width="1.3"/>
<line x1="180.96" y1="431.2" x2="180.96" y2="434.6" stroke="#111" stroke-width="1.3"/>
<line x1="184.02" y1="431.2" x2="184.02" y2="434.6" stroke="#111" stroke-width="1.3"/>
<line x1="186.51" y1="431.2" x2="186.51" y2="434.6" stroke="#111" stroke-width="1.3"/>
<line x1="188.62" y1="431.2" x2="188.62" y2="434.6" stroke="#111" stroke-width="1.3"/>
<line x1="190.45" y1="431.2" x2="190.45" y2="434.6" stroke="#111" stroke-width="1.3"/>
<line x1="192.06" y1="431.2" x2="192.06" y2="434.6" stroke="#111" stroke-width="1.3"/>
<line x1="202.98" y1="431.2" x2="202.98" y2="434.6" stroke="#111" stroke-width="1.3"/>
<line x1="208.53" y1="431.2" x2="208.53" y2="434.6" stroke="#111" stroke-width="1.3"/>
<line x1="212.46" y1="431.2" x2="212.46" y2="434.6" stroke="#111" stroke-width="1.3"/>
<line x1="215.52" y1="431.2" x2="215.52" y2="434.6" stroke="#111" stroke-width="1.3"/>
<line x1="218.01" y1="431.2" x2="218.01" y2="434.6" stroke="#111" stroke-width="1.3"/>
<line x1="220.12" y1="431.2" x2="220.12" y2="434.6" stroke="#111" stroke-width="1.3"/>
<line x1="221.95" y1="431.2" x2="221.95" y2="434.6" stroke="#111" stroke-width="1.3"/>
<line x1="223.56" y1="431.2" x2="223.56" y2="434.6" stroke="#111" stroke-width="1.3"/>
<line x1="130.50" y1="431.2" x2="130.50" y2="435.8" stroke="#111" stroke-width="1.5"/>
<line x1="162.00" y1="431.2" x2="162.00" y2="435.8" stroke="#111" stroke-width="1.5"/>
<line x1="193.50" y1="431.2" x2="193.50" y2="435.8" stroke="#111" stroke-width="1.5"/>
<clipPath id="p21"><rect x="243.0" y="305.7" width="126.0" height="125.5"/></clipPath><g clip-path="url(#p21)">
<path d="M233.0,343.4 243.0,343.4 244.0,343.4 245.0,343.4 246.0,343.3 247.0,343.3 248.0,343.2 249.0,343.2 250.0,343.2 251.0,343.1 252.0,343.1 253.0,343.0 254.0,343.0 255.0,342.9 256.0,342.9 256.9,342.9 257.9,342.8 258.8,342.8 259.8,342.7 260.8,342.7 261.7,342.6 262.7,342.7 263.6,342.5 264.6,342.5 265.5,342.5 266.5,342.4 267.5,342.4 268.4,342.5 269.4,342.0 270.4,342.0 271.4,341.8 272.3,341.8 273.3,341.9 274.3,341.5 275.2,341.5 276.2,341.5 277.1,341.2 278.1,341.2 279.1,340.9 280.0,340.6 280.9,340.0 281.9,339.6 282.9,339.2 283.8,338.7 284.8,337.7 285.7,337.2 286.7,336.0 287.8,333.7 288.9,330.6 290.0,328.1 291.2,323.6 292.5,319.1 293.4,315.2 294.4,311.6 295.2,310.1 296.0,309.1 296.9,309.7 297.7,311.3 298.6,315.3 299.6,318.1 300.9,323.8 302.1,327.5 303.1,330.4 304.0,333.0 305.0,335.9 305.9,337.2 306.9,338.1 307.9,339.1 308.8,339.5 309.8,340.1 310.7,340.4 311.7,340.7 312.6,340.8 313.6,341.3 314.6,341.2 315.5,341.4 316.5,341.5 317.5,341.6 318.6,341.6 319.6,341.6 320.6,341.5 321.6,342.1 322.7,341.9 323.7,342.2 324.7,342.0 325.7,342.2 326.8,342.2 327.8,342.0 328.8,342.1 329.8,342.2 330.9,342.2 331.9,342.3 332.9,342.3 333.9,342.3 334.9,342.4 336.0,342.5 337.0,342.4 338.0,342.6 339.0,342.7 340.0,342.8 341.0,342.7 342.1,342.7 343.1,342.7 344.1,342.8 345.1,342.8 346.1,342.8 347.1,342.8 348.2,342.9 349.2,342.9 350.2,342.9 351.2,342.9 352.2,343.0 353.2,343.0 354.1,343.0 355.1,343.1 356.1,343.1 357.1,343.1 358.1,343.1 359.1,343.1 360.1,343.2 361.0,343.2 362.0,343.2 363.0,343.2 364.0,343.3 365.0,343.3 366.0,343.3 367.0,343.4 368.0,343.4 369.0,343.4 379.0,343.4 379.0,441.2 233.0,441.2Z" fill="#fff" stroke="#161662" stroke-width="2.00" stroke-linejoin="round"/>
<path d="M233.0,361.0 243.0,361.0 244.0,361.0 245.0,361.0 246.0,360.9 247.0,360.9 248.0,360.9 249.0,360.9 250.0,360.9 251.0,360.9 252.0,360.8 253.0,360.8 254.0,360.8 255.0,360.7 256.0,360.6 256.9,360.6 257.9,360.5 258.8,360.5 259.8,360.4 260.8,360.3 261.7,360.2 262.7,360.2 263.6,360.3 264.6,360.1 265.5,359.7 266.5,359.5 267.5,359.5 268.4,359.6 269.4,359.5 270.4,359.3 271.4,359.1 272.3,359.0 273.3,358.6 274.3,358.1 275.2,358.0 276.2,357.7 277.1,357.2 278.1,357.0 279.1,356.8 280.0,356.3 280.9,356.1 281.9,355.6 282.9,354.7 283.8,354.3 284.8,353.1 285.8,351.8 286.7,349.5 287.7,347.9 288.7,345.4 289.8,341.9 290.8,337.3 291.9,333.5 293.1,330.7 294.4,328.3 295.8,325.5 296.8,327.7 297.7,331.5 298.9,333.6 300.2,336.9 301.2,338.8 302.1,339.6 303.1,340.9 304.1,340.2 305.0,341.8 305.9,343.3 306.9,343.5 307.9,343.9 308.9,343.8 309.8,345.6 310.8,346.2 311.8,345.6 312.7,346.5 313.6,345.7 314.6,345.6 315.6,346.8 316.6,347.2 317.5,347.0 318.5,347.1 319.4,347.8 320.4,348.7 321.4,348.5 322.3,349.1 323.3,349.6 324.2,351.2 325.2,351.0 326.2,351.7 327.1,352.7 328.1,352.9 329.1,353.8 330.0,354.2 331.0,354.8 331.9,354.6 332.9,355.8 333.9,356.3 334.8,356.7 335.8,356.9 336.8,357.3 337.7,358.0 338.7,358.0 339.6,357.8 340.6,358.0 341.6,358.5 342.5,358.5 343.5,358.9 344.4,359.0 345.4,358.8 346.4,359.4 347.3,359.2 348.3,359.6 349.2,359.9 350.2,359.9 351.2,359.8 352.1,360.1 353.1,360.1 354.0,360.2 355.0,360.3 356.0,360.4 357.0,360.4 358.0,360.5 359.0,360.5 360.0,360.6 361.0,360.6 362.0,360.7 363.0,360.7 364.0,360.8 365.0,360.8 366.0,360.9 367.0,360.9 368.0,360.9 369.0,361.0 379.0,361.0 379.0,441.2 233.0,441.2Z" fill="#fff" stroke="#8a2580" stroke-width="2.00" stroke-linejoin="round"/>
<path d="M233.0,378.5 243.0,378.5 244.0,378.5 245.0,378.5 246.0,378.4 247.0,378.4 248.0,378.3 249.0,378.3 250.0,378.2 251.0,378.2 252.0,378.1 253.0,378.1 254.0,378.0 255.0,377.9 256.0,377.9 256.9,377.9 257.9,377.8 258.8,377.8 259.8,377.8 260.8,377.6 261.7,377.8 262.7,377.6 263.6,377.4 264.6,377.5 265.5,377.5 266.5,377.3 267.5,377.1 268.4,377.1 269.4,377.1 270.4,376.9 271.4,376.9 272.3,376.8 273.3,376.4 274.3,376.4 275.2,376.4 276.2,376.0 277.1,375.6 278.1,375.4 279.1,375.1 280.0,374.9 280.9,374.3 281.9,373.6 283.0,372.1 284.1,371.0 285.1,369.5 286.2,367.3 287.3,365.3 288.5,361.0 289.6,357.6 290.6,354.2 291.5,351.3 292.5,348.3 293.8,346.3 295.0,345.9 295.9,345.0 296.9,347.8 298.1,350.9 299.2,354.4 300.2,355.2 301.1,357.0 302.1,359.0 303.2,360.5 304.3,362.6 305.4,364.4 306.5,364.7 307.7,366.7 308.8,367.0 309.8,367.6 310.8,369.2 311.7,369.2 312.7,369.8 313.7,370.1 314.6,369.9 315.6,370.3 316.6,371.0 317.5,371.1 318.5,371.6 319.4,371.8 320.4,372.9 321.4,373.3 322.3,373.6 323.2,373.9 324.2,374.2 325.2,374.0 326.1,374.9 327.1,374.9 328.1,375.3 329.0,375.6 330.0,375.7 330.9,375.8 331.9,376.1 332.9,376.0 333.8,376.6 334.8,376.4 335.7,376.5 336.7,376.6 337.7,377.2 338.6,377.2 339.6,376.9 340.5,377.3 341.5,377.4 342.5,377.4 343.4,377.5 344.4,377.6 345.4,377.6 346.3,377.7 347.3,377.8 348.2,377.8 349.2,377.9 350.2,377.9 351.1,378.0 352.1,378.0 353.1,378.1 354.0,378.1 355.0,378.1 356.0,378.2 357.0,378.2 358.0,378.3 359.0,378.3 360.0,378.3 361.0,378.4 362.0,378.4 363.0,378.4 364.0,378.4 365.0,378.4 366.0,378.5 367.0,378.5 368.0,378.5 369.0,378.5 379.0,378.5 379.0,441.2 233.0,441.2Z" fill="#fff" stroke="#145e36" stroke-width="2.00" stroke-linejoin="round"/>
<path d="M233.0,396.1 243.0,396.1 244.0,396.1 245.0,396.0 246.0,396.0 247.0,396.0 248.0,395.9 249.0,395.9 250.0,395.9 251.0,395.8 252.0,395.8 253.0,395.8 254.0,395.7 255.0,395.7 256.0,395.7 257.0,395.6 258.0,395.6 259.0,395.6 260.1,395.6 261.1,395.5 262.1,395.5 263.1,395.5 264.1,395.5 265.1,395.4 266.1,395.4 267.1,395.4 268.1,395.3 269.1,395.3 270.2,395.3 271.2,395.4 272.2,395.1 273.2,395.1 274.2,395.2 275.2,395.0 276.1,395.0 277.1,395.1 278.0,395.0 279.0,395.1 280.0,394.9 280.9,394.7 281.9,394.5 282.8,394.4 283.8,394.4 284.8,394.0 285.7,394.1 286.7,393.9 287.7,393.5 288.6,392.3 289.6,392.1 290.6,390.6 291.6,388.9 292.5,386.4 293.5,384.0 294.4,382.3 295.4,379.3 296.4,376.0 297.3,374.0 298.3,371.3 299.2,369.3 300.2,366.2 301.2,363.9 302.1,362.4 303.1,363.1 304.0,362.5 305.0,363.2 306.0,364.5 306.9,368.6 307.9,372.7 308.9,375.8 309.8,380.3 310.8,384.2 311.7,387.2 312.8,389.1 313.9,390.1 315.0,391.2 316.0,392.1 317.0,392.1 318.0,392.5 319.0,393.0 320.1,393.0 321.1,393.3 322.2,393.5 323.3,393.2 324.3,393.1 325.3,393.7 326.3,393.7 327.3,393.8 328.4,393.7 329.4,393.6 330.4,393.8 331.4,393.8 332.4,394.0 333.4,394.1 334.4,394.1 335.4,394.2 336.4,394.3 337.5,394.3 338.5,394.6 339.5,394.6 340.5,394.6 341.5,394.6 342.5,394.5 343.4,394.7 344.4,394.7 345.4,394.7 346.3,394.8 347.3,394.7 348.2,394.8 349.2,394.7 350.2,394.8 351.1,394.7 352.1,394.9 353.1,394.8 354.0,395.0 355.0,395.0 356.0,395.0 357.0,395.1 358.0,395.1 359.0,395.0 360.0,395.2 361.0,395.1 362.0,395.3 363.0,395.3 364.0,395.4 365.0,395.5 366.0,395.7 367.0,395.8 368.0,396.0 369.0,396.1 379.0,396.1 379.0,441.2 233.0,441.2Z" fill="#fff" stroke="#d62428" stroke-width="2.00" stroke-linejoin="round"/>
<path d="M233.0,413.6 243.0,413.6 244.0,413.6 245.0,413.6 246.0,413.6 247.0,413.6 248.0,413.5 249.0,413.5 250.0,413.5 251.0,413.5 252.0,413.4 253.0,413.4 254.0,413.4 255.0,413.3 256.0,413.3 257.1,413.3 258.1,413.3 259.1,413.3 260.1,413.2 261.2,413.2 262.2,413.2 263.2,413.2 264.2,413.2 265.3,413.1 266.3,413.1 267.3,413.1 268.3,413.0 269.4,413.0 270.4,412.9 271.4,412.9 272.5,412.9 273.5,412.8 274.5,412.7 275.6,412.8 276.6,412.8 277.6,412.5 278.6,412.6 279.7,412.4 280.7,412.4 281.7,412.2 282.8,412.0 283.8,412.0 284.8,411.1 285.7,410.8 286.7,410.8 287.6,410.2 288.6,409.9 289.6,409.4 290.5,408.7 291.5,408.6 292.5,407.9 293.4,407.3 294.4,406.4 295.4,405.5 296.3,405.2 297.3,404.4 298.3,404.2 299.2,403.7 300.2,402.5 301.1,402.6 302.1,400.9 303.1,400.9 304.1,401.0 305.0,399.6 306.0,399.1 306.9,396.3 307.9,393.6 308.8,391.4 309.8,388.3 310.7,385.4 311.7,382.6 312.7,381.8 313.6,381.1 314.6,379.1 315.8,379.5 316.9,380.3 318.1,381.5 319.4,386.6 320.4,388.5 321.3,391.4 322.3,395.5 323.3,398.0 324.2,400.5 325.2,402.4 326.1,403.9 327.1,405.8 328.1,406.5 329.0,407.8 330.0,408.1 330.9,408.4 331.9,408.6 332.9,409.3 333.9,409.7 334.8,409.7 335.8,410.2 336.8,410.3 337.7,410.6 338.7,410.7 339.6,411.3 340.6,411.1 341.6,411.2 342.5,411.8 343.5,411.5 344.4,411.7 345.4,411.8 346.4,412.0 347.3,412.0 348.3,412.2 349.2,412.2 350.2,412.3 351.2,412.5 352.1,412.4 353.1,412.6 354.0,412.2 355.0,412.6 356.0,412.7 357.0,412.8 358.0,412.9 359.0,412.8 360.0,412.8 361.0,412.9 362.0,413.0 363.0,413.0 364.0,413.1 365.0,413.2 366.0,413.3 367.0,413.4 368.0,413.5 369.0,413.6 379.0,413.6 379.0,441.2 233.0,441.2Z" fill="#fff" stroke="#e68634" stroke-width="2.00" stroke-linejoin="round"/>
<path d="M233.0,431.2 243.0,431.2 244.0,431.2 245.0,431.2 246.0,431.2 247.0,431.2 248.0,431.2 249.0,431.2 250.0,431.2 251.0,431.2 252.0,431.2 253.0,431.2 253.9,431.2 254.9,431.2 255.9,431.2 256.9,431.2 257.9,431.2 258.9,431.2 259.9,431.2 260.9,431.2 261.9,431.2 262.9,431.2 263.9,431.2 264.9,431.2 265.9,431.2 266.9,431.2 267.9,431.2 268.9,431.2 269.9,431.2 270.9,431.2 271.9,431.2 272.9,431.1 273.8,431.1 274.8,431.1 275.8,431.1 276.8,431.1 277.8,431.1 278.8,431.0 279.8,431.0 280.8,431.0 281.8,431.0 282.8,430.9 283.8,430.9 284.8,430.9 285.7,430.8 286.7,430.6 287.7,430.5 288.7,430.1 289.6,429.7 290.6,429.4 291.6,429.2 292.5,428.1 293.5,427.5 294.4,426.3 295.4,425.5 296.4,425.0 297.3,423.3 298.3,422.0 299.2,420.5 300.2,419.3 301.3,417.0 302.4,415.2 303.5,413.9 304.6,411.1 305.6,409.1 306.7,407.1 307.8,405.3 308.8,403.5 309.8,402.2 310.7,401.4 311.7,400.1 312.9,397.9 314.2,397.3 315.4,396.5 316.5,400.3 317.5,401.2 318.4,402.8 319.4,405.3 320.4,408.5 321.3,410.6 322.3,412.8 323.3,415.4 324.2,417.5 325.2,419.5 326.2,420.6 327.2,422.0 328.1,423.7 329.1,424.2 330.0,425.3 331.0,425.4 332.0,426.4 332.9,426.6 333.9,427.0 334.8,427.5 335.8,427.5 336.8,428.1 337.7,428.3 338.7,428.1 339.6,428.5 340.6,429.0 341.6,428.6 342.5,429.0 343.5,429.2 344.5,429.2 345.4,429.4 346.4,429.6 347.4,429.8 348.3,430.0 349.3,430.2 350.2,430.4 351.2,430.5 352.2,430.6 353.1,430.7 354.1,430.8 355.1,430.9 356.1,430.9 357.0,431.0 358.0,431.0 359.0,431.0 360.0,431.1 361.0,431.1 362.0,431.1 363.0,431.1 364.0,431.1 365.0,431.1 366.0,431.2 367.0,431.2 368.0,431.2 369.0,431.2 379.0,431.2 379.0,441.2 233.0,441.2Z" fill="#fff" stroke="#302214" stroke-width="2.00" stroke-linejoin="round"/>
</g>
<path d="M243.0,435.8 V305.7 H369.0 V435.8" fill="none" stroke="#111" stroke-width="1.8" stroke-linecap="butt" stroke-linejoin="miter"/>
<line x1="243.0" y1="431.2" x2="369.0" y2="431.2" stroke="#111" stroke-width="1.8"/>
<line x1="252.48" y1="431.2" x2="252.48" y2="434.6" stroke="#111" stroke-width="1.3"/>
<line x1="258.03" y1="431.2" x2="258.03" y2="434.6" stroke="#111" stroke-width="1.3"/>
<line x1="261.96" y1="431.2" x2="261.96" y2="434.6" stroke="#111" stroke-width="1.3"/>
<line x1="265.02" y1="431.2" x2="265.02" y2="434.6" stroke="#111" stroke-width="1.3"/>
<line x1="267.51" y1="431.2" x2="267.51" y2="434.6" stroke="#111" stroke-width="1.3"/>
<line x1="269.62" y1="431.2" x2="269.62" y2="434.6" stroke="#111" stroke-width="1.3"/>
<line x1="271.45" y1="431.2" x2="271.45" y2="434.6" stroke="#111" stroke-width="1.3"/>
<line x1="273.06" y1="431.2" x2="273.06" y2="434.6" stroke="#111" stroke-width="1.3"/>
<line x1="283.98" y1="431.2" x2="283.98" y2="434.6" stroke="#111" stroke-width="1.3"/>
<line x1="289.53" y1="431.2" x2="289.53" y2="434.6" stroke="#111" stroke-width="1.3"/>
<line x1="293.46" y1="431.2" x2="293.46" y2="434.6" stroke="#111" stroke-width="1.3"/>
<line x1="296.52" y1="431.2" x2="296.52" y2="434.6" stroke="#111" stroke-width="1.3"/>
<line x1="299.01" y1="431.2" x2="299.01" y2="434.6" stroke="#111" stroke-width="1.3"/>
<line x1="301.12" y1="431.2" x2="301.12" y2="434.6" stroke="#111" stroke-width="1.3"/>
<line x1="302.95" y1="431.2" x2="302.95" y2="434.6" stroke="#111" stroke-width="1.3"/>
<line x1="304.56" y1="431.2" x2="304.56" y2="434.6" stroke="#111" stroke-width="1.3"/>
<line x1="315.48" y1="431.2" x2="315.48" y2="434.6" stroke="#111" stroke-width="1.3"/>
<line x1="321.03" y1="431.2" x2="321.03" y2="434.6" stroke="#111" stroke-width="1.3"/>
<line x1="324.96" y1="431.2" x2="324.96" y2="434.6" stroke="#111" stroke-width="1.3"/>
<line x1="328.02" y1="431.2" x2="328.02" y2="434.6" stroke="#111" stroke-width="1.3"/>
<line x1="330.51" y1="431.2" x2="330.51" y2="434.6" stroke="#111" stroke-width="1.3"/>
<line x1="332.62" y1="431.2" x2="332.62" y2="434.6" stroke="#111" stroke-width="1.3"/>
<line x1="334.45" y1="431.2" x2="334.45" y2="434.6" stroke="#111" stroke-width="1.3"/>
<line x1="336.06" y1="431.2" x2="336.06" y2="434.6" stroke="#111" stroke-width="1.3"/>
<line x1="346.98" y1="431.2" x2="346.98" y2="434.6" stroke="#111" stroke-width="1.3"/>
<line x1="352.53" y1="431.2" x2="352.53" y2="434.6" stroke="#111" stroke-width="1.3"/>
<line x1="356.46" y1="431.2" x2="356.46" y2="434.6" stroke="#111" stroke-width="1.3"/>
<line x1="359.52" y1="431.2" x2="359.52" y2="434.6" stroke="#111" stroke-width="1.3"/>
<line x1="362.01" y1="431.2" x2="362.01" y2="434.6" stroke="#111" stroke-width="1.3"/>
<line x1="364.12" y1="431.2" x2="364.12" y2="434.6" stroke="#111" stroke-width="1.3"/>
<line x1="365.95" y1="431.2" x2="365.95" y2="434.6" stroke="#111" stroke-width="1.3"/>
<line x1="367.56" y1="431.2" x2="367.56" y2="434.6" stroke="#111" stroke-width="1.3"/>
<line x1="274.50" y1="431.2" x2="274.50" y2="435.8" stroke="#111" stroke-width="1.5"/>
<line x1="306.00" y1="431.2" x2="306.00" y2="435.8" stroke="#111" stroke-width="1.5"/>
<line x1="337.50" y1="431.2" x2="337.50" y2="435.8" stroke="#111" stroke-width="1.5"/>
<clipPath id="p22"><rect x="386.5" y="305.7" width="126.0" height="125.5"/></clipPath><g clip-path="url(#p22)">
<path d="M376.5,343.4 386.5,343.4 387.5,343.4 388.4,343.4 389.4,343.3 390.4,343.3 391.3,343.3 392.3,343.2 393.2,343.2 394.2,343.2 395.2,343.1 396.1,343.1 397.1,343.1 398.1,343.0 399.0,343.0 400.0,342.9 401.0,342.9 401.9,342.9 402.9,342.8 403.8,342.8 404.8,342.8 405.8,342.7 406.7,342.7 407.7,342.7 408.6,342.4 409.6,342.6 410.5,342.3 411.5,342.3 412.5,342.3 413.4,342.2 414.4,342.0 415.4,342.0 416.4,342.0 417.3,341.9 418.3,341.8 419.3,341.6 420.2,341.2 421.2,341.2 422.1,340.6 423.1,340.4 424.1,340.3 425.0,339.8 425.9,339.2 426.9,338.4 427.9,337.8 428.9,337.2 429.8,335.6 430.8,333.7 431.8,331.3 432.7,327.8 433.7,324.5 434.9,319.2 436.2,314.7 437.4,311.3 438.5,310.1 439.8,308.6 440.6,309.3 441.3,310.8 442.3,313.6 443.3,317.4 444.6,322.1 445.8,326.8 446.9,330.7 448.1,333.5 449.2,336.3 450.4,338.8 451.4,339.5 452.4,340.4 453.5,341.1 454.5,341.3 455.5,341.7 456.5,341.9 457.5,342.0 458.5,342.5 459.5,342.3 460.5,342.2 461.5,342.5 462.5,342.6 463.5,342.7 464.5,342.7 465.5,342.7 466.5,342.7 467.5,342.7 468.5,342.8 469.5,342.8 470.5,342.8 471.5,342.8 472.5,342.9 473.5,342.9 474.5,342.9 475.5,342.9 476.5,342.9 477.5,343.0 478.5,343.0 479.5,343.0 480.5,343.0 481.5,343.0 482.5,343.1 483.5,343.1 484.5,343.1 485.5,343.1 486.5,343.1 487.5,343.1 488.5,343.1 489.5,343.1 490.5,343.1 491.5,343.1 492.5,343.2 493.5,343.2 494.5,343.2 495.5,343.2 496.5,343.2 497.5,343.2 498.5,343.2 499.5,343.3 500.5,343.3 501.5,343.3 502.5,343.3 503.5,343.3 504.5,343.3 505.5,343.3 506.5,343.4 507.5,343.4 508.5,343.4 509.5,343.4 510.5,343.4 511.5,343.4 512.5,343.4 522.5,343.4 522.5,441.2 376.5,441.2Z" fill="#fff" stroke="#161662" stroke-width="2.00" stroke-linejoin="round"/>
<path d="M376.5,361.0 386.5,361.0 387.5,361.0 388.4,361.0 389.4,360.9 390.4,360.9 391.3,360.9 392.3,360.9 393.2,360.9 394.2,360.8 395.2,360.8 396.1,360.8 397.1,360.8 398.1,360.8 399.0,360.7 400.0,360.7 401.0,360.7 402.1,360.6 403.1,360.6 404.1,360.6 405.1,360.6 406.2,360.5 407.2,360.5 408.2,360.5 409.2,360.4 410.3,360.4 411.3,360.3 412.3,360.3 413.3,360.2 414.4,360.2 415.4,360.2 416.4,359.8 417.3,359.7 418.3,359.9 419.2,359.7 420.2,359.8 421.1,359.6 422.1,359.3 423.1,359.4 424.0,359.0 425.0,359.2 425.9,358.8 426.9,358.7 427.9,358.4 428.8,358.4 429.8,357.6 430.8,357.7 431.8,356.9 432.7,357.1 433.7,357.1 434.7,355.5 435.6,355.7 436.6,355.4 437.5,354.3 438.5,353.9 439.5,353.2 440.4,352.8 441.4,352.1 442.3,350.5 443.3,350.4 444.3,348.7 445.2,349.0 446.2,346.4 447.1,346.7 448.1,344.2 449.1,342.7 450.0,340.9 450.9,337.9 451.9,336.2 452.9,334.4 453.9,332.0 454.8,330.1 455.8,329.5 456.8,329.9 457.7,327.8 458.7,328.0 459.9,326.3 461.2,327.0 462.4,327.9 463.5,329.5 464.4,330.5 465.4,332.6 466.3,331.8 467.3,329.7 468.2,329.9 469.2,328.4 470.4,330.9 471.5,332.4 472.4,335.1 473.2,336.2 474.1,340.0 475.0,339.3 476.0,341.7 476.9,342.8 477.9,343.5 478.9,344.7 479.9,345.1 480.8,345.6 481.8,346.9 482.7,347.6 483.7,347.7 484.6,350.5 485.6,351.8 486.6,353.5 487.5,355.8 488.5,357.2 489.4,358.1 490.4,358.7 491.4,359.5 492.3,359.8 493.3,359.7 494.2,360.3 495.2,360.4 496.2,360.6 497.1,360.6 498.1,360.7 499.1,360.8 500.2,360.8 501.2,360.8 502.2,360.9 503.2,360.9 504.3,360.9 505.3,360.9 506.3,360.9 507.4,360.9 508.4,361.0 509.4,361.0 510.4,361.0 511.5,361.0 512.5,361.0 522.5,361.0 522.5,441.2 376.5,441.2Z" fill="#fff" stroke="#8a2580" stroke-width="2.00" stroke-linejoin="round"/>
<path d="M376.5,378.5 386.5,378.5 387.5,378.5 388.4,378.5 389.4,378.4 390.4,378.4 391.3,378.3 392.3,378.3 393.2,378.3 394.2,378.2 395.2,378.2 396.1,378.1 397.1,378.1 398.1,378.0 399.0,378.0 400.0,377.9 401.0,377.9 402.1,377.8 403.1,377.8 404.1,377.8 405.1,377.4 406.2,377.6 407.2,377.3 408.2,377.4 409.2,377.3 410.3,377.2 411.3,377.2 412.3,377.2 413.3,377.3 414.4,376.7 415.4,377.1 416.4,376.9 417.3,376.8 418.3,376.8 419.2,376.1 420.2,376.1 421.2,376.5 422.1,376.0 423.1,376.3 424.0,375.7 425.0,375.7 426.0,374.9 426.9,375.2 427.9,374.6 428.8,374.6 429.8,373.5 430.7,373.4 431.7,372.3 432.7,371.7 433.6,370.3 434.6,369.3 435.6,367.2 436.6,363.2 437.5,360.6 438.5,357.3 439.4,354.6 440.4,352.3 441.3,348.7 442.3,348.6 443.2,346.4 444.2,343.6 445.4,345.1 446.5,346.5 447.8,348.1 449.0,351.6 450.2,352.8 451.5,355.8 452.6,356.7 453.7,358.8 454.8,358.8 455.8,358.7 456.7,359.6 457.7,359.8 458.6,359.4 459.6,359.7 460.6,359.7 461.5,357.5 462.5,358.5 463.4,357.8 464.4,357.4 465.3,357.3 466.3,356.6 467.3,357.2 468.3,356.0 469.2,357.1 470.2,355.4 471.2,355.2 472.2,356.7 473.1,356.4 474.1,355.8 475.0,356.8 476.0,356.4 476.9,354.8 477.9,356.1 478.8,355.7 479.8,356.1 480.7,356.3 481.7,355.5 482.7,358.1 483.6,359.3 484.6,361.6 485.6,362.9 486.6,364.7 487.5,366.1 488.5,369.2 489.4,370.4 490.4,371.8 491.4,372.3 492.3,373.7 493.3,374.3 494.2,375.0 495.2,376.3 496.2,376.6 497.1,376.4 498.1,377.2 499.1,377.5 500.0,377.8 501.1,377.6 502.2,377.9 503.2,378.0 504.3,378.1 505.4,378.2 506.5,378.2 507.5,378.3 508.5,378.4 509.5,378.4 510.5,378.5 511.5,378.5 512.5,378.5 522.5,378.5 522.5,441.2 376.5,441.2Z" fill="#fff" stroke="#145e36" stroke-width="2.00" stroke-linejoin="round"/>
<path d="M376.5,396.1 386.5,396.1 387.5,396.1 388.4,396.0 389.4,396.0 390.4,396.0 391.3,396.0 392.3,395.9 393.2,395.9 394.2,395.9 395.2,395.8 396.1,395.8 397.1,395.8 398.1,395.8 399.0,395.7 400.0,395.7 401.0,395.7 402.0,395.6 403.0,395.6 404.0,395.6 405.1,395.6 406.1,395.5 407.1,395.5 408.1,395.5 409.1,395.5 410.1,395.4 411.1,395.4 412.1,395.4 413.1,395.3 414.1,395.3 415.2,395.4 416.2,395.3 417.2,395.1 418.2,395.2 419.2,395.2 420.2,394.9 421.1,394.9 422.1,395.0 423.0,394.9 424.0,394.8 425.0,394.9 425.9,394.7 426.9,394.5 427.8,394.6 428.8,394.1 429.8,393.9 430.8,393.9 431.7,393.5 432.7,393.0 433.7,392.1 434.6,390.4 435.6,388.7 436.6,386.6 437.5,383.3 438.4,381.7 439.4,379.3 440.4,375.9 441.3,372.3 442.4,369.4 443.5,366.7 444.6,365.4 445.9,362.5 447.1,362.4 448.4,363.1 449.6,365.2 450.8,369.5 451.9,373.6 453.1,377.9 454.2,382.3 455.3,384.9 456.4,387.7 457.5,389.4 458.5,390.6 459.5,391.3 460.5,391.7 461.5,392.1 462.5,392.4 463.5,393.4 464.4,393.2 465.4,393.3 466.3,393.4 467.3,393.6 468.2,393.5 469.2,393.9 470.2,393.9 471.2,394.1 472.3,394.0 473.3,393.9 474.3,394.1 475.3,394.2 476.3,393.9 477.3,394.2 478.4,394.3 479.4,394.3 480.4,394.1 481.4,394.3 482.4,394.4 483.4,394.5 484.5,394.5 485.5,394.4 486.5,394.7 487.5,394.6 488.4,394.6 489.4,394.8 490.4,394.5 491.3,394.8 492.3,394.7 493.2,394.7 494.2,394.7 495.2,395.0 496.1,394.9 497.1,395.0 498.1,395.0 499.0,395.1 500.0,395.1 501.1,394.9 502.1,395.3 503.2,395.2 504.2,395.4 505.3,395.3 506.4,395.4 507.4,395.4 508.5,395.5 509.5,395.6 510.5,395.8 511.5,395.9 512.5,396.1 522.5,396.1 522.5,441.2 376.5,441.2Z" fill="#fff" stroke="#d62428" stroke-width="2.00" stroke-linejoin="round"/>
<path d="M376.5,413.6 386.5,413.6 387.5,413.6 388.4,413.6 389.4,413.6 390.4,413.6 391.3,413.6 392.3,413.5 393.2,413.5 394.2,413.5 395.2,413.5 396.1,413.5 397.1,413.4 398.1,413.4 399.0,413.4 400.0,413.3 401.0,413.3 402.1,413.3 403.1,413.2 404.1,413.2 405.1,413.2 406.2,413.1 407.2,413.1 408.2,413.0 409.2,413.0 410.3,412.9 411.3,412.9 412.3,412.6 413.3,412.8 414.4,412.6 415.4,412.8 416.4,412.5 417.3,412.3 418.3,412.4 419.2,411.9 420.2,411.9 421.1,412.1 422.1,411.6 423.1,411.4 424.0,411.3 425.0,411.0 425.9,410.8 426.9,410.8 427.9,410.1 428.8,410.2 429.8,409.8 430.8,409.9 431.7,409.1 432.7,408.4 433.7,408.2 434.6,408.0 435.6,407.1 436.6,406.8 437.5,406.7 438.4,405.6 439.4,405.4 440.4,404.4 441.3,402.8 442.3,402.1 443.3,401.8 444.2,400.4 445.2,399.4 446.2,397.6 447.1,395.9 448.1,393.8 449.1,391.7 450.0,389.9 450.9,388.2 451.9,386.7 452.9,385.7 453.8,382.7 454.7,381.1 455.6,380.8 456.4,380.4 457.3,380.4 458.2,380.8 459.1,380.1 460.0,382.2 461.0,383.9 462.1,385.7 463.1,387.7 464.2,390.2 465.2,391.5 466.3,394.8 467.3,395.4 468.2,397.0 469.2,398.2 470.2,399.2 471.2,401.1 472.1,401.0 473.1,403.5 474.0,403.7 475.0,404.6 476.0,405.3 476.9,405.6 477.9,406.6 478.9,406.8 479.8,407.5 480.8,407.5 481.8,408.0 482.7,407.9 483.7,408.4 484.6,408.4 485.6,408.5 486.6,409.0 487.5,409.3 488.5,409.4 489.5,409.4 490.4,409.6 491.4,410.0 492.4,410.4 493.3,410.4 494.3,410.7 495.2,411.1 496.2,411.3 497.1,411.7 498.1,411.9 499.1,411.8 500.0,412.3 501.1,412.5 502.1,412.6 503.2,412.7 504.2,412.8 505.3,412.9 506.4,412.9 507.4,413.0 508.5,413.1 509.5,413.3 510.5,413.4 511.5,413.5 512.5,413.6 522.5,413.6 522.5,441.2 376.5,441.2Z" fill="#fff" stroke="#e68634" stroke-width="2.00" stroke-linejoin="round"/>
<path d="M376.5,431.2 386.5,431.2 387.5,431.2 388.5,431.2 389.5,431.2 390.5,431.2 391.5,431.2 392.5,431.2 393.6,431.2 394.6,431.2 395.6,431.2 396.6,431.2 397.6,431.2 398.6,431.2 399.6,431.2 400.6,431.2 401.6,431.2 402.6,431.2 403.6,431.2 404.6,431.2 405.6,431.2 406.6,431.2 407.6,431.2 408.7,431.2 409.7,431.2 410.7,431.2 411.7,431.2 412.7,431.2 413.7,431.2 414.7,431.2 415.7,431.2 416.7,431.2 417.7,431.1 418.7,431.1 419.7,431.1 420.7,431.1 421.8,431.1 422.8,431.1 423.8,431.0 424.8,431.0 425.8,431.0 426.8,431.0 427.8,430.9 428.8,430.9 429.8,430.9 430.7,430.8 431.7,430.7 432.6,430.6 433.6,430.4 434.6,430.2 435.5,429.9 436.5,429.6 437.5,428.8 438.4,428.4 439.4,427.4 440.4,425.9 441.4,422.7 442.3,419.4 443.3,416.5 444.3,411.2 445.2,406.6 446.2,403.9 447.4,400.5 448.5,397.1 449.2,397.3 450.0,397.4 451.1,398.5 452.3,401.0 453.6,404.0 454.8,408.9 455.8,411.5 456.7,415.0 457.7,417.2 458.6,418.8 459.6,420.0 460.6,421.2 461.5,422.4 462.5,422.6 463.4,423.2 464.4,423.7 465.4,424.2 466.3,424.4 467.3,424.6 468.3,424.7 469.2,425.0 470.2,425.3 471.1,426.4 472.1,426.3 473.1,426.5 474.0,426.6 475.0,426.5 476.0,426.6 476.9,426.5 477.9,426.7 478.9,426.3 479.8,426.4 480.8,426.2 481.7,426.7 482.7,426.7 483.7,426.8 484.6,426.7 485.6,427.0 486.6,427.4 487.5,427.4 488.5,427.7 489.4,427.9 490.4,428.4 491.4,428.8 492.3,429.4 493.2,429.7 494.2,430.0 495.2,430.0 496.1,430.3 497.1,430.6 498.1,430.7 499.0,430.8 500.0,430.9 501.0,431.0 502.1,431.0 503.1,431.1 504.2,431.1 505.2,431.1 506.2,431.1 507.3,431.1 508.3,431.1 509.4,431.2 510.4,431.2 511.5,431.2 512.5,431.2 522.5,431.2 522.5,441.2 376.5,441.2Z" fill="#fff" stroke="#302214" stroke-width="2.00" stroke-linejoin="round"/>
</g>
<path d="M386.5,435.8 V305.7 H512.5 V435.8" fill="none" stroke="#111" stroke-width="1.8" stroke-linecap="butt" stroke-linejoin="miter"/>
<line x1="386.5" y1="431.2" x2="512.5" y2="431.2" stroke="#111" stroke-width="1.8"/>
<line x1="395.98" y1="431.2" x2="395.98" y2="434.6" stroke="#111" stroke-width="1.3"/>
<line x1="401.53" y1="431.2" x2="401.53" y2="434.6" stroke="#111" stroke-width="1.3"/>
<line x1="405.46" y1="431.2" x2="405.46" y2="434.6" stroke="#111" stroke-width="1.3"/>
<line x1="408.52" y1="431.2" x2="408.52" y2="434.6" stroke="#111" stroke-width="1.3"/>
<line x1="411.01" y1="431.2" x2="411.01" y2="434.6" stroke="#111" stroke-width="1.3"/>
<line x1="413.12" y1="431.2" x2="413.12" y2="434.6" stroke="#111" stroke-width="1.3"/>
<line x1="414.95" y1="431.2" x2="414.95" y2="434.6" stroke="#111" stroke-width="1.3"/>
<line x1="416.56" y1="431.2" x2="416.56" y2="434.6" stroke="#111" stroke-width="1.3"/>
<line x1="427.48" y1="431.2" x2="427.48" y2="434.6" stroke="#111" stroke-width="1.3"/>
<line x1="433.03" y1="431.2" x2="433.03" y2="434.6" stroke="#111" stroke-width="1.3"/>
<line x1="436.96" y1="431.2" x2="436.96" y2="434.6" stroke="#111" stroke-width="1.3"/>
<line x1="440.02" y1="431.2" x2="440.02" y2="434.6" stroke="#111" stroke-width="1.3"/>
<line x1="442.51" y1="431.2" x2="442.51" y2="434.6" stroke="#111" stroke-width="1.3"/>
<line x1="444.62" y1="431.2" x2="444.62" y2="434.6" stroke="#111" stroke-width="1.3"/>
<line x1="446.45" y1="431.2" x2="446.45" y2="434.6" stroke="#111" stroke-width="1.3"/>
<line x1="448.06" y1="431.2" x2="448.06" y2="434.6" stroke="#111" stroke-width="1.3"/>
<line x1="458.98" y1="431.2" x2="458.98" y2="434.6" stroke="#111" stroke-width="1.3"/>
<line x1="464.53" y1="431.2" x2="464.53" y2="434.6" stroke="#111" stroke-width="1.3"/>
<line x1="468.46" y1="431.2" x2="468.46" y2="434.6" stroke="#111" stroke-width="1.3"/>
<line x1="471.52" y1="431.2" x2="471.52" y2="434.6" stroke="#111" stroke-width="1.3"/>
<line x1="474.01" y1="431.2" x2="474.01" y2="434.6" stroke="#111" stroke-width="1.3"/>
<line x1="476.12" y1="431.2" x2="476.12" y2="434.6" stroke="#111" stroke-width="1.3"/>
<line x1="477.95" y1="431.2" x2="477.95" y2="434.6" stroke="#111" stroke-width="1.3"/>
<line x1="479.56" y1="431.2" x2="479.56" y2="434.6" stroke="#111" stroke-width="1.3"/>
<line x1="490.48" y1="431.2" x2="490.48" y2="434.6" stroke="#111" stroke-width="1.3"/>
<line x1="496.03" y1="431.2" x2="496.03" y2="434.6" stroke="#111" stroke-width="1.3"/>
<line x1="499.96" y1="431.2" x2="499.96" y2="434.6" stroke="#111" stroke-width="1.3"/>
<line x1="503.02" y1="431.2" x2="503.02" y2="434.6" stroke="#111" stroke-width="1.3"/>
<line x1="505.51" y1="431.2" x2="505.51" y2="434.6" stroke="#111" stroke-width="1.3"/>
<line x1="507.62" y1="431.2" x2="507.62" y2="434.6" stroke="#111" stroke-width="1.3"/>
<line x1="509.45" y1="431.2" x2="509.45" y2="434.6" stroke="#111" stroke-width="1.3"/>
<line x1="511.06" y1="431.2" x2="511.06" y2="434.6" stroke="#111" stroke-width="1.3"/>
<line x1="418.00" y1="431.2" x2="418.00" y2="435.8" stroke="#111" stroke-width="1.5"/>
<line x1="449.50" y1="431.2" x2="449.50" y2="435.8" stroke="#111" stroke-width="1.5"/>
<line x1="481.00" y1="431.2" x2="481.00" y2="435.8" stroke="#111" stroke-width="1.5"/>
<line x1="74.4" y1="60.7" x2="74.4" y2="106.7" stroke="#2a2a2a" stroke-width="1.4"/>
<line x1="74.0" y1="115.8" x2="74.0" y2="160.9" stroke="#6a6a6a" stroke-width="1.7"/>
<text x="88.3" y="69.3" text-anchor="middle" class="t">0'</text>
<text x="88.3" y="86.9" text-anchor="middle" class="t">10'</text>
<text x="88.3" y="104.4" text-anchor="middle" class="t">30'</text>
<text x="88.3" y="123.2" text-anchor="middle" class="t">0'</text>
<text x="88.3" y="140.8" text-anchor="middle" class="t">10'</text>
<text x="88.3" y="158.3" text-anchor="middle" class="t">30'</text>
<text transform="translate(64.6,84.6) rotate(-90)" text-anchor="middle" class="wt">WT</text>
<text transform="translate(64.8,161.4) rotate(-90)" class="wt" font-style="italic" textLength="25.8" lengthAdjust="spacingAndGlyphs">Kras</text>
<text transform="translate(61.9,134.7) rotate(-90) skewX(-6)" class="wt" font-style="italic" style="font-size:8.3px" textLength="18.2" lengthAdjust="spacingAndGlyphs">G12D</text>
<line x1="74.4" y1="195.3" x2="74.4" y2="241.3" stroke="#2a2a2a" stroke-width="1.4"/>
<line x1="74.0" y1="250.4" x2="74.0" y2="295.5" stroke="#6a6a6a" stroke-width="1.7"/>
<text x="88.3" y="204.4" text-anchor="middle" class="t">0'</text>
<text x="88.3" y="221.9" text-anchor="middle" class="t">10'</text>
<text x="88.3" y="239.5" text-anchor="middle" class="t">30'</text>
<text x="88.3" y="258.3" text-anchor="middle" class="t">0'</text>
<text x="88.3" y="275.8" text-anchor="middle" class="t">10'</text>
<text x="88.3" y="293.4" text-anchor="middle" class="t">30'</text>
<text transform="translate(64.6,219.2) rotate(-90)" text-anchor="middle" class="wt">WT</text>
<text transform="translate(64.8,296.0) rotate(-90)" class="wt" font-style="italic" textLength="25.8" lengthAdjust="spacingAndGlyphs">Kras</text>
<text transform="translate(61.9,269.3) rotate(-90) skewX(-6)" class="wt" font-style="italic" style="font-size:8.3px" textLength="18.2" lengthAdjust="spacingAndGlyphs">G12D</text>
<line x1="74.4" y1="329.9" x2="74.4" y2="375.9" stroke="#2a2a2a" stroke-width="1.4"/>
<line x1="74.0" y1="385.0" x2="74.0" y2="430.1" stroke="#6a6a6a" stroke-width="1.7"/>
<text x="88.3" y="338.7" text-anchor="middle" class="t">0'</text>
<text x="88.3" y="356.2" text-anchor="middle" class="t">10'</text>
<text x="88.3" y="373.8" text-anchor="middle" class="t">30'</text>
<text x="88.3" y="392.6" text-anchor="middle" class="t">0'</text>
<text x="88.3" y="410.1" text-anchor="middle" class="t">10'</text>
<text x="88.3" y="427.7" text-anchor="middle" class="t">30'</text>
<text transform="translate(64.6,353.8) rotate(-90)" text-anchor="middle" class="wt">WT</text>
<text transform="translate(64.8,430.6) rotate(-90)" class="wt" font-style="italic" textLength="25.8" lengthAdjust="spacingAndGlyphs">Kras</text>
<text transform="translate(61.9,403.9) rotate(-90) skewX(-6)" class="wt" font-style="italic" style="font-size:8.3px" textLength="18.2" lengthAdjust="spacingAndGlyphs">G12D</text>
<text x="0.3" y="111.6" class="rl" style="font-size:14.2px" textLength="38.2" lengthAdjust="spacingAndGlyphs">pERK</text>
<text x="0.3" y="247.1" class="rl" style="font-size:13.9px" textLength="51.6" lengthAdjust="spacingAndGlyphs">pSTAT5</text>
<text x="0.3" y="381.2" class="rl" style="font-size:15.5px" textLength="29.2" lengthAdjust="spacingAndGlyphs">pS6</text>
<text x="76.4" y="12.7" class="hl" textLength="11.6" lengthAdjust="spacingAndGlyphs">A</text>
<text x="240.8" y="12.6" class="hl">B</text>
<text x="383.0" y="11.8" class="hl">C</text>
<text x="113.8" y="14.8" class="h" textLength="98" lengthAdjust="spacingAndGlyphs">Whole Marrow</text>
<text x="133.2" y="31.4" class="h" textLength="56" lengthAdjust="spacingAndGlyphs">GM-CSF</text>
<text x="276.7" y="31.4" class="h" textLength="56" lengthAdjust="spacingAndGlyphs">GM-CSF</text>
<text x="429.6" y="31.4" class="h" textLength="27.8" lengthAdjust="spacingAndGlyphs">SCF</text>
<text x="269.9" y="14.8" class="hk" textLength="28.8" lengthAdjust="spacingAndGlyphs">c-kit</text><text x="298.3" y="10.2" class="h" style="font-size:8.5px">+</text><text x="308.5" y="14.8" class="hk" textLength="15" lengthAdjust="spacingAndGlyphs">lin</text><text x="325.3" y="10.6" class="h" style="font-size:7.8px" font-style="italic" textLength="18.3" lengthAdjust="spacingAndGlyphs">-/low</text>
<text x="412.1" y="14.8" class="hk" textLength="28.8" lengthAdjust="spacingAndGlyphs">c-kit</text><text x="440.5" y="10.2" class="h" style="font-size:8.5px">+</text><text x="450.7" y="14.8" class="hk" textLength="15" lengthAdjust="spacingAndGlyphs">lin</text><text x="467.5" y="10.6" class="h" style="font-size:7.8px" font-style="italic" textLength="18.3" lengthAdjust="spacingAndGlyphs">-/low</text>
<text x="92.7" y="445.6" class="ax">10</text><text x="103.7" y="442.4" class="ax" style="font-size:6.5px">0</text>
<text x="155.7" y="445.6" class="ax">10</text><text x="166.7" y="442.4" class="ax" style="font-size:6.5px">2</text>
<text x="218.7" y="445.6" class="ax">10</text><text x="229.7" y="442.4" class="ax" style="font-size:6.5px">4</text>
<text x="236.7" y="445.6" class="ax">10</text><text x="247.7" y="442.4" class="ax" style="font-size:6.5px">0</text>
<text x="299.7" y="445.6" class="ax">10</text><text x="310.7" y="442.4" class="ax" style="font-size:6.5px">2</text>
<text x="362.7" y="445.6" class="ax">10</text><text x="373.7" y="442.4" class="ax" style="font-size:6.5px">4</text>
<text x="380.2" y="445.6" class="ax">10</text><text x="391.2" y="442.4" class="ax" style="font-size:6.5px">0</text>
<text x="443.2" y="445.6" class="ax">10</text><text x="454.2" y="442.4" class="ax" style="font-size:6.5px">2</text>
<text x="506.2" y="445.6" class="ax">10</text><text x="517.2" y="442.4" class="ax" style="font-size:6.5px">4</text>
</svg>
</body></html>
